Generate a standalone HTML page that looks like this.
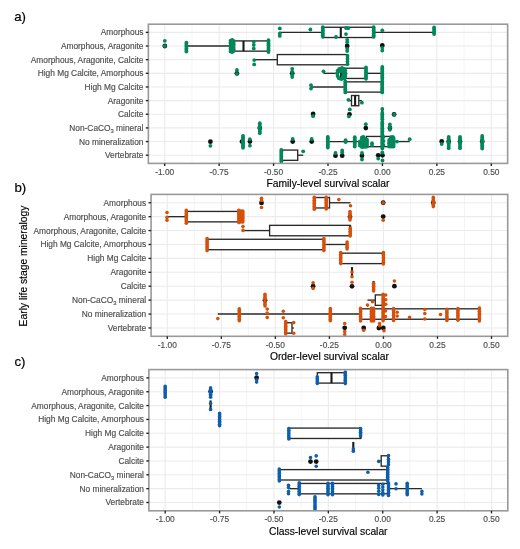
<!DOCTYPE html><html><head><meta charset="utf-8"><style>html,body{margin:0;padding:0;background:#fff;width:520px;height:549px;overflow:hidden}</style></head><body><svg width="520" height="549" viewBox="0 0 520 549" style="display:block;filter:blur(0.65px)"><rect width="520" height="549" fill="#fff"/><line x1="164.70" y1="24.20" x2="164.70" y2="163.40" stroke="#EBEBEB" stroke-width="1.1"/><line x1="191.92" y1="24.20" x2="191.92" y2="163.40" stroke="#EBEBEB" stroke-width="0.55"/><line x1="219.13" y1="24.20" x2="219.13" y2="163.40" stroke="#EBEBEB" stroke-width="1.1"/><line x1="246.35" y1="24.20" x2="246.35" y2="163.40" stroke="#EBEBEB" stroke-width="0.55"/><line x1="273.57" y1="24.20" x2="273.57" y2="163.40" stroke="#EBEBEB" stroke-width="1.1"/><line x1="300.78" y1="24.20" x2="300.78" y2="163.40" stroke="#EBEBEB" stroke-width="0.55"/><line x1="328.00" y1="24.20" x2="328.00" y2="163.40" stroke="#EBEBEB" stroke-width="1.1"/><line x1="355.22" y1="24.20" x2="355.22" y2="163.40" stroke="#EBEBEB" stroke-width="0.55"/><line x1="382.43" y1="24.20" x2="382.43" y2="163.40" stroke="#EBEBEB" stroke-width="1.1"/><line x1="409.65" y1="24.20" x2="409.65" y2="163.40" stroke="#EBEBEB" stroke-width="0.55"/><line x1="436.87" y1="24.20" x2="436.87" y2="163.40" stroke="#EBEBEB" stroke-width="1.1"/><line x1="464.08" y1="24.20" x2="464.08" y2="163.40" stroke="#EBEBEB" stroke-width="0.55"/><line x1="491.30" y1="24.20" x2="491.30" y2="163.40" stroke="#EBEBEB" stroke-width="1.1"/><line x1="148.37" y1="32.39" x2="507.63" y2="32.39" stroke="#EBEBEB" stroke-width="1.1"/><line x1="148.37" y1="46.04" x2="507.63" y2="46.04" stroke="#EBEBEB" stroke-width="1.1"/><line x1="148.37" y1="59.68" x2="507.63" y2="59.68" stroke="#EBEBEB" stroke-width="1.1"/><line x1="148.37" y1="73.33" x2="507.63" y2="73.33" stroke="#EBEBEB" stroke-width="1.1"/><line x1="148.37" y1="86.98" x2="507.63" y2="86.98" stroke="#EBEBEB" stroke-width="1.1"/><line x1="148.37" y1="100.62" x2="507.63" y2="100.62" stroke="#EBEBEB" stroke-width="1.1"/><line x1="148.37" y1="114.27" x2="507.63" y2="114.27" stroke="#EBEBEB" stroke-width="1.1"/><line x1="148.37" y1="127.92" x2="507.63" y2="127.92" stroke="#EBEBEB" stroke-width="1.1"/><line x1="148.37" y1="141.56" x2="507.63" y2="141.56" stroke="#EBEBEB" stroke-width="1.1"/><line x1="148.37" y1="155.21" x2="507.63" y2="155.21" stroke="#EBEBEB" stroke-width="1.1"/><g stroke="#2a2a2a" stroke-width="1.35" fill="#fff"><line x1="279.80" y1="32.39" x2="322.80" y2="32.39"/><line x1="373.70" y1="32.39" x2="434.10" y2="32.39"/><rect x="322.80" y="27.27" width="50.90" height="10.24"/><line x1="340.80" y1="27.27" x2="340.80" y2="37.51" stroke="#1a1a1a" stroke-width="2.1"/></g><g stroke="#2a2a2a" stroke-width="1.35" fill="#fff"><line x1="186.40" y1="46.04" x2="233.60" y2="46.04"/><line x1="268.50" y1="46.04" x2="268.50" y2="46.04"/><rect x="233.60" y="40.92" width="34.90" height="10.24"/><line x1="243.50" y1="40.92" x2="243.50" y2="51.15" stroke="#1a1a1a" stroke-width="2.1"/></g><g stroke="#2a2a2a" stroke-width="1.35" fill="#fff"><line x1="254.20" y1="59.68" x2="277.30" y2="59.68"/><line x1="347.50" y1="59.68" x2="347.50" y2="59.68"/><rect x="277.30" y="54.56" width="70.20" height="10.24"/><line x1="347.50" y1="54.56" x2="347.50" y2="64.80" stroke="#1a1a1a" stroke-width="2.1"/></g><g stroke="#2a2a2a" stroke-width="1.35" fill="#fff"><line x1="323.50" y1="73.33" x2="338.30" y2="73.33"/><line x1="366.00" y1="73.33" x2="382.30" y2="73.33"/><rect x="338.30" y="68.21" width="27.70" height="10.24"/><line x1="341.00" y1="68.21" x2="341.00" y2="78.45" stroke="#1a1a1a" stroke-width="2.1"/></g><g stroke="#2a2a2a" stroke-width="1.35" fill="#fff"><line x1="311.00" y1="86.98" x2="345.30" y2="86.98"/><line x1="382.20" y1="86.98" x2="382.20" y2="86.98"/><rect x="345.30" y="81.86" width="36.90" height="10.24"/><line x1="382.20" y1="81.86" x2="382.20" y2="92.09" stroke="#1a1a1a" stroke-width="2.1"/></g><g stroke="#2a2a2a" stroke-width="1.35" fill="#fff"><line x1="348.60" y1="100.62" x2="351.50" y2="100.62"/><line x1="358.80" y1="100.62" x2="361.90" y2="100.62"/><rect x="351.50" y="95.51" width="7.30" height="10.24"/><line x1="355.10" y1="95.51" x2="355.10" y2="105.74" stroke="#1a1a1a" stroke-width="2.1"/></g><g stroke="#2a2a2a" stroke-width="1.35" fill="#fff"><line x1="382.30" y1="114.27" x2="382.30" y2="114.27"/><line x1="382.30" y1="114.27" x2="382.30" y2="114.27"/><rect x="382.30" y="109.15" width="0.00" height="10.24"/><line x1="382.30" y1="109.15" x2="382.30" y2="119.39" stroke="#1a1a1a" stroke-width="2.1"/></g><g stroke="#2a2a2a" stroke-width="1.35" fill="#fff"><line x1="382.30" y1="127.92" x2="382.30" y2="127.92"/><line x1="382.30" y1="127.92" x2="382.30" y2="127.92"/><rect x="382.30" y="122.80" width="0.00" height="10.24"/><line x1="382.30" y1="122.80" x2="382.30" y2="133.04" stroke="#1a1a1a" stroke-width="2.1"/></g><g stroke="#2a2a2a" stroke-width="1.35" fill="#fff"><line x1="327.80" y1="141.56" x2="366.40" y2="141.56"/><line x1="390.50" y1="141.56" x2="409.70" y2="141.56"/><rect x="366.40" y="136.45" width="24.10" height="10.24"/><line x1="382.30" y1="136.45" x2="382.30" y2="146.68" stroke="#1a1a1a" stroke-width="2.1"/></g><g stroke="#2a2a2a" stroke-width="1.35" fill="#fff"><line x1="281.30" y1="155.21" x2="281.30" y2="155.21"/><line x1="297.70" y1="155.21" x2="303.20" y2="155.21"/><rect x="281.30" y="150.09" width="16.40" height="10.24"/><line x1="281.30" y1="150.09" x2="281.30" y2="160.33" stroke="#1a1a1a" stroke-width="2.1"/></g><circle cx="164.80" cy="46.00" r="2.4" fill="#111"/><circle cx="347.20" cy="46.00" r="2.4" fill="#111"/><circle cx="382.30" cy="45.50" r="2.4" fill="#111"/><circle cx="236.90" cy="73.30" r="2.4" fill="#111"/><circle cx="292.20" cy="73.30" r="2.4" fill="#111"/><circle cx="313.10" cy="114.00" r="2.4" fill="#111"/><circle cx="349.50" cy="114.30" r="2.4" fill="#111"/><circle cx="394.10" cy="114.40" r="2.4" fill="#111"/><circle cx="259.80" cy="128.00" r="2.4" fill="#111"/><circle cx="365.80" cy="128.10" r="2.4" fill="#111"/><circle cx="389.90" cy="128.00" r="2.4" fill="#111"/><circle cx="210.40" cy="141.70" r="2.4" fill="#111"/><circle cx="242.00" cy="141.60" r="2.4" fill="#111"/><circle cx="249.90" cy="141.60" r="2.4" fill="#111"/><circle cx="292.70" cy="141.60" r="2.4" fill="#111"/><circle cx="311.70" cy="141.60" r="2.4" fill="#111"/><circle cx="441.70" cy="141.50" r="2.4" fill="#111"/><circle cx="448.70" cy="141.50" r="2.4" fill="#111"/><circle cx="460.00" cy="141.50" r="2.4" fill="#111"/><circle cx="482.20" cy="141.50" r="2.4" fill="#111"/><circle cx="335.50" cy="155.70" r="2.4" fill="#111"/><circle cx="342.20" cy="155.70" r="2.4" fill="#111"/><circle cx="362.00" cy="155.70" r="2.4" fill="#111"/><circle cx="378.20" cy="155.30" r="2.4" fill="#111"/><circle cx="382.50" cy="155.30" r="2.4" fill="#111"/><circle cx="279.80" cy="28.40" r="1.9" fill="#00885A"/><circle cx="279.80" cy="33.40" r="1.9" fill="#00885A"/><circle cx="279.80" cy="35.90" r="1.9" fill="#00885A"/><circle cx="310.40" cy="29.50" r="1.9" fill="#00885A"/><circle cx="322.80" cy="27.20" r="1.9" fill="#00885A"/><circle cx="322.80" cy="28.80" r="1.9" fill="#00885A"/><circle cx="322.80" cy="30.40" r="1.9" fill="#00885A"/><circle cx="322.80" cy="32.00" r="1.9" fill="#00885A"/><circle cx="322.80" cy="33.60" r="1.9" fill="#00885A"/><circle cx="322.80" cy="35.20" r="1.9" fill="#00885A"/><circle cx="322.80" cy="36.80" r="1.9" fill="#00885A"/><circle cx="336.00" cy="37.00" r="1.9" fill="#00885A"/><circle cx="346.00" cy="28.00" r="1.9" fill="#00885A"/><circle cx="346.00" cy="34.10" r="1.9" fill="#00885A"/><circle cx="348.20" cy="28.20" r="1.9" fill="#00885A"/><circle cx="373.70" cy="27.20" r="1.9" fill="#00885A"/><circle cx="373.70" cy="28.80" r="1.9" fill="#00885A"/><circle cx="373.70" cy="30.40" r="1.9" fill="#00885A"/><circle cx="373.70" cy="32.00" r="1.9" fill="#00885A"/><circle cx="373.70" cy="33.60" r="1.9" fill="#00885A"/><circle cx="373.70" cy="35.20" r="1.9" fill="#00885A"/><circle cx="373.70" cy="36.80" r="1.9" fill="#00885A"/><circle cx="382.30" cy="30.30" r="1.9" fill="#00885A"/><circle cx="434.10" cy="27.40" r="1.9" fill="#00885A"/><circle cx="434.10" cy="29.07" r="1.9" fill="#00885A"/><circle cx="434.10" cy="30.75" r="1.9" fill="#00885A"/><circle cx="434.10" cy="32.42" r="1.9" fill="#00885A"/><circle cx="434.10" cy="34.10" r="1.9" fill="#00885A"/><circle cx="164.80" cy="46.00" r="1.9" fill="#00885A"/><circle cx="164.80" cy="40.80" r="1.9" fill="#00885A"/><circle cx="186.40" cy="42.60" r="1.9" fill="#00885A"/><circle cx="186.40" cy="44.10" r="1.9" fill="#00885A"/><circle cx="186.40" cy="45.60" r="1.9" fill="#00885A"/><circle cx="186.40" cy="47.10" r="1.9" fill="#00885A"/><circle cx="186.40" cy="48.60" r="1.9" fill="#00885A"/><circle cx="186.40" cy="50.10" r="1.9" fill="#00885A"/><circle cx="186.40" cy="51.60" r="1.9" fill="#00885A"/><circle cx="230.60" cy="40.60" r="1.9" fill="#00885A"/><circle cx="230.60" cy="42.17" r="1.9" fill="#00885A"/><circle cx="230.60" cy="43.74" r="1.9" fill="#00885A"/><circle cx="230.60" cy="45.31" r="1.9" fill="#00885A"/><circle cx="230.60" cy="46.89" r="1.9" fill="#00885A"/><circle cx="230.60" cy="48.46" r="1.9" fill="#00885A"/><circle cx="230.60" cy="50.03" r="1.9" fill="#00885A"/><circle cx="230.60" cy="51.60" r="1.9" fill="#00885A"/><circle cx="232.20" cy="40.00" r="1.9" fill="#00885A"/><circle cx="232.20" cy="41.50" r="1.9" fill="#00885A"/><circle cx="232.20" cy="43.00" r="1.9" fill="#00885A"/><circle cx="232.20" cy="44.50" r="1.9" fill="#00885A"/><circle cx="232.20" cy="46.00" r="1.9" fill="#00885A"/><circle cx="232.20" cy="47.50" r="1.9" fill="#00885A"/><circle cx="232.20" cy="49.00" r="1.9" fill="#00885A"/><circle cx="232.20" cy="50.50" r="1.9" fill="#00885A"/><circle cx="232.20" cy="52.00" r="1.9" fill="#00885A"/><circle cx="233.60" cy="41.00" r="1.9" fill="#00885A"/><circle cx="233.60" cy="42.67" r="1.9" fill="#00885A"/><circle cx="233.60" cy="44.33" r="1.9" fill="#00885A"/><circle cx="233.60" cy="46.00" r="1.9" fill="#00885A"/><circle cx="233.60" cy="47.67" r="1.9" fill="#00885A"/><circle cx="233.60" cy="49.33" r="1.9" fill="#00885A"/><circle cx="233.60" cy="51.00" r="1.9" fill="#00885A"/><circle cx="253.80" cy="41.80" r="1.9" fill="#00885A"/><circle cx="253.80" cy="45.00" r="1.9" fill="#00885A"/><circle cx="253.80" cy="48.60" r="1.9" fill="#00885A"/><circle cx="268.50" cy="40.20" r="1.9" fill="#00885A"/><circle cx="268.50" cy="41.89" r="1.9" fill="#00885A"/><circle cx="268.50" cy="43.57" r="1.9" fill="#00885A"/><circle cx="268.50" cy="45.26" r="1.9" fill="#00885A"/><circle cx="268.50" cy="46.94" r="1.9" fill="#00885A"/><circle cx="268.50" cy="48.63" r="1.9" fill="#00885A"/><circle cx="268.50" cy="50.31" r="1.9" fill="#00885A"/><circle cx="268.50" cy="52.00" r="1.9" fill="#00885A"/><circle cx="347.20" cy="39.80" r="1.9" fill="#00885A"/><circle cx="347.20" cy="42.20" r="1.9" fill="#00885A"/><circle cx="347.20" cy="48.80" r="1.9" fill="#00885A"/><circle cx="347.20" cy="51.00" r="1.9" fill="#00885A"/><circle cx="382.30" cy="47.80" r="1.9" fill="#00885A"/><circle cx="382.30" cy="50.60" r="1.9" fill="#00885A"/><circle cx="254.20" cy="60.10" r="1.9" fill="#00885A"/><circle cx="254.20" cy="64.40" r="1.9" fill="#00885A"/><circle cx="347.50" cy="56.00" r="1.9" fill="#00885A"/><circle cx="347.50" cy="58.80" r="1.9" fill="#00885A"/><circle cx="347.50" cy="61.60" r="1.9" fill="#00885A"/><circle cx="347.50" cy="64.20" r="1.9" fill="#00885A"/><circle cx="236.90" cy="69.90" r="1.9" fill="#00885A"/><circle cx="236.90" cy="73.90" r="1.9" fill="#00885A"/><circle cx="292.20" cy="68.80" r="1.9" fill="#00885A"/><circle cx="292.20" cy="71.60" r="1.9" fill="#00885A"/><circle cx="292.20" cy="75.00" r="1.9" fill="#00885A"/><circle cx="292.20" cy="77.00" r="1.9" fill="#00885A"/><circle cx="323.50" cy="71.30" r="1.9" fill="#00885A"/><circle cx="342.00" cy="67.90" r="1.9" fill="#00885A"/><circle cx="340.00" cy="68.90" r="1.9" fill="#00885A"/><circle cx="344.00" cy="68.90" r="1.9" fill="#00885A"/><circle cx="337.60" cy="70.60" r="1.9" fill="#00885A"/><circle cx="337.20" cy="73.20" r="1.9" fill="#00885A"/><circle cx="337.60" cy="76.00" r="1.9" fill="#00885A"/><circle cx="338.60" cy="78.00" r="1.9" fill="#00885A"/><circle cx="345.30" cy="70.60" r="1.9" fill="#00885A"/><circle cx="345.60" cy="73.50" r="1.9" fill="#00885A"/><circle cx="345.30" cy="76.50" r="1.9" fill="#00885A"/><circle cx="344.40" cy="78.40" r="1.9" fill="#00885A"/><circle cx="341.60" cy="79.00" r="1.9" fill="#00885A"/><circle cx="339.80" cy="78.60" r="1.9" fill="#00885A"/><circle cx="339.60" cy="71.40" r="1.9" fill="#00885A"/><circle cx="341.60" cy="71.00" r="1.9" fill="#00885A"/><circle cx="343.20" cy="72.60" r="1.9" fill="#00885A"/><circle cx="343.20" cy="75.20" r="1.9" fill="#00885A"/><circle cx="342.60" cy="77.60" r="1.9" fill="#00885A"/><circle cx="366.00" cy="67.50" r="1.9" fill="#00885A"/><circle cx="366.00" cy="69.11" r="1.9" fill="#00885A"/><circle cx="366.00" cy="70.73" r="1.9" fill="#00885A"/><circle cx="366.00" cy="72.34" r="1.9" fill="#00885A"/><circle cx="366.00" cy="73.96" r="1.9" fill="#00885A"/><circle cx="366.00" cy="75.57" r="1.9" fill="#00885A"/><circle cx="366.00" cy="77.19" r="1.9" fill="#00885A"/><circle cx="366.00" cy="78.80" r="1.9" fill="#00885A"/><circle cx="382.30" cy="67.00" r="1.9" fill="#00885A"/><circle cx="382.30" cy="68.50" r="1.9" fill="#00885A"/><circle cx="382.30" cy="70.00" r="1.9" fill="#00885A"/><circle cx="382.30" cy="71.50" r="1.9" fill="#00885A"/><circle cx="382.30" cy="73.00" r="1.9" fill="#00885A"/><circle cx="382.30" cy="74.50" r="1.9" fill="#00885A"/><circle cx="382.30" cy="76.00" r="1.9" fill="#00885A"/><circle cx="382.30" cy="77.50" r="1.9" fill="#00885A"/><circle cx="382.30" cy="79.00" r="1.9" fill="#00885A"/><circle cx="311.00" cy="85.20" r="1.9" fill="#00885A"/><circle cx="311.00" cy="88.60" r="1.9" fill="#00885A"/><circle cx="345.30" cy="81.30" r="1.9" fill="#00885A"/><circle cx="345.30" cy="82.89" r="1.9" fill="#00885A"/><circle cx="345.30" cy="84.47" r="1.9" fill="#00885A"/><circle cx="345.30" cy="86.06" r="1.9" fill="#00885A"/><circle cx="345.30" cy="87.64" r="1.9" fill="#00885A"/><circle cx="345.30" cy="89.23" r="1.9" fill="#00885A"/><circle cx="345.30" cy="90.81" r="1.9" fill="#00885A"/><circle cx="345.30" cy="92.40" r="1.9" fill="#00885A"/><circle cx="382.20" cy="81.30" r="1.9" fill="#00885A"/><circle cx="382.20" cy="82.89" r="1.9" fill="#00885A"/><circle cx="382.20" cy="84.47" r="1.9" fill="#00885A"/><circle cx="382.20" cy="86.06" r="1.9" fill="#00885A"/><circle cx="382.20" cy="87.64" r="1.9" fill="#00885A"/><circle cx="382.20" cy="89.23" r="1.9" fill="#00885A"/><circle cx="382.20" cy="90.81" r="1.9" fill="#00885A"/><circle cx="382.20" cy="92.40" r="1.9" fill="#00885A"/><circle cx="348.40" cy="99.80" r="1.9" fill="#00885A"/><circle cx="361.90" cy="102.70" r="1.9" fill="#00885A"/><circle cx="313.10" cy="116.20" r="1.9" fill="#00885A"/><circle cx="349.80" cy="109.40" r="1.9" fill="#00885A"/><circle cx="348.90" cy="116.40" r="1.9" fill="#00885A"/><circle cx="382.30" cy="108.90" r="1.9" fill="#00885A"/><circle cx="382.30" cy="112.90" r="1.9" fill="#00885A"/><circle cx="382.30" cy="114.50" r="1.9" fill="#00885A"/><circle cx="382.30" cy="116.10" r="1.9" fill="#00885A"/><circle cx="382.30" cy="117.70" r="1.9" fill="#00885A"/><circle cx="382.30" cy="119.30" r="1.9" fill="#00885A"/><circle cx="382.30" cy="122.00" r="1.9" fill="#00885A"/><circle cx="382.30" cy="123.55" r="1.9" fill="#00885A"/><circle cx="382.30" cy="125.11" r="1.9" fill="#00885A"/><circle cx="382.30" cy="126.66" r="1.9" fill="#00885A"/><circle cx="382.30" cy="128.21" r="1.9" fill="#00885A"/><circle cx="382.30" cy="129.76" r="1.9" fill="#00885A"/><circle cx="382.30" cy="131.32" r="1.9" fill="#00885A"/><circle cx="382.30" cy="132.87" r="1.9" fill="#00885A"/><circle cx="382.30" cy="134.42" r="1.9" fill="#00885A"/><circle cx="382.30" cy="135.98" r="1.9" fill="#00885A"/><circle cx="382.30" cy="137.53" r="1.9" fill="#00885A"/><circle cx="382.30" cy="139.08" r="1.9" fill="#00885A"/><circle cx="382.30" cy="140.64" r="1.9" fill="#00885A"/><circle cx="382.30" cy="142.19" r="1.9" fill="#00885A"/><circle cx="382.30" cy="143.74" r="1.9" fill="#00885A"/><circle cx="382.30" cy="145.29" r="1.9" fill="#00885A"/><circle cx="382.30" cy="146.85" r="1.9" fill="#00885A"/><circle cx="382.30" cy="148.40" r="1.9" fill="#00885A"/><circle cx="383.40" cy="137.00" r="1.9" fill="#00885A"/><circle cx="383.40" cy="141.00" r="1.9" fill="#00885A"/><circle cx="383.40" cy="145.00" r="1.9" fill="#00885A"/><circle cx="394.10" cy="114.50" r="1.9" fill="#00885A"/><circle cx="259.80" cy="123.20" r="1.9" fill="#00885A"/><circle cx="259.80" cy="124.87" r="1.9" fill="#00885A"/><circle cx="259.80" cy="126.53" r="1.9" fill="#00885A"/><circle cx="259.80" cy="128.20" r="1.9" fill="#00885A"/><circle cx="259.80" cy="129.87" r="1.9" fill="#00885A"/><circle cx="259.80" cy="131.53" r="1.9" fill="#00885A"/><circle cx="259.80" cy="133.20" r="1.9" fill="#00885A"/><circle cx="365.80" cy="124.20" r="1.9" fill="#00885A"/><circle cx="389.90" cy="124.50" r="1.9" fill="#00885A"/><circle cx="389.90" cy="127.20" r="1.9" fill="#00885A"/><circle cx="389.90" cy="129.80" r="1.9" fill="#00885A"/><circle cx="210.40" cy="145.80" r="1.9" fill="#00885A"/><circle cx="243.00" cy="135.80" r="1.9" fill="#00885A"/><circle cx="243.00" cy="137.30" r="1.9" fill="#00885A"/><circle cx="243.00" cy="138.80" r="1.9" fill="#00885A"/><circle cx="243.00" cy="140.30" r="1.9" fill="#00885A"/><circle cx="243.00" cy="141.80" r="1.9" fill="#00885A"/><circle cx="243.00" cy="143.30" r="1.9" fill="#00885A"/><circle cx="243.00" cy="144.80" r="1.9" fill="#00885A"/><circle cx="243.00" cy="146.30" r="1.9" fill="#00885A"/><circle cx="243.00" cy="147.80" r="1.9" fill="#00885A"/><circle cx="249.90" cy="145.70" r="1.9" fill="#00885A"/><circle cx="249.90" cy="139.20" r="1.9" fill="#00885A"/><circle cx="292.70" cy="139.00" r="1.9" fill="#00885A"/><circle cx="311.70" cy="139.00" r="1.9" fill="#00885A"/><circle cx="327.80" cy="136.80" r="1.9" fill="#00885A"/><circle cx="327.80" cy="138.34" r="1.9" fill="#00885A"/><circle cx="327.80" cy="139.89" r="1.9" fill="#00885A"/><circle cx="327.80" cy="141.43" r="1.9" fill="#00885A"/><circle cx="327.80" cy="142.97" r="1.9" fill="#00885A"/><circle cx="327.80" cy="144.51" r="1.9" fill="#00885A"/><circle cx="327.80" cy="146.06" r="1.9" fill="#00885A"/><circle cx="327.80" cy="147.60" r="1.9" fill="#00885A"/><circle cx="345.60" cy="140.20" r="1.9" fill="#00885A"/><circle cx="345.60" cy="142.00" r="1.9" fill="#00885A"/><circle cx="354.75" cy="137.20" r="1.9" fill="#00885A"/><circle cx="354.75" cy="138.77" r="1.9" fill="#00885A"/><circle cx="354.75" cy="140.33" r="1.9" fill="#00885A"/><circle cx="354.75" cy="141.90" r="1.9" fill="#00885A"/><circle cx="354.75" cy="143.47" r="1.9" fill="#00885A"/><circle cx="354.75" cy="145.03" r="1.9" fill="#00885A"/><circle cx="354.75" cy="146.60" r="1.9" fill="#00885A"/><circle cx="359.90" cy="141.50" r="1.9" fill="#00885A"/><circle cx="359.90" cy="143.50" r="1.9" fill="#00885A"/><circle cx="359.90" cy="145.50" r="1.9" fill="#00885A"/><circle cx="361.90" cy="137.50" r="1.9" fill="#00885A"/><circle cx="361.90" cy="139.08" r="1.9" fill="#00885A"/><circle cx="361.90" cy="140.67" r="1.9" fill="#00885A"/><circle cx="361.90" cy="142.25" r="1.9" fill="#00885A"/><circle cx="361.90" cy="143.83" r="1.9" fill="#00885A"/><circle cx="361.90" cy="145.42" r="1.9" fill="#00885A"/><circle cx="361.90" cy="147.00" r="1.9" fill="#00885A"/><circle cx="363.40" cy="136.80" r="1.9" fill="#00885A"/><circle cx="363.40" cy="138.47" r="1.9" fill="#00885A"/><circle cx="363.40" cy="140.13" r="1.9" fill="#00885A"/><circle cx="363.40" cy="141.80" r="1.9" fill="#00885A"/><circle cx="363.40" cy="143.47" r="1.9" fill="#00885A"/><circle cx="363.40" cy="145.13" r="1.9" fill="#00885A"/><circle cx="363.40" cy="146.80" r="1.9" fill="#00885A"/><circle cx="365.40" cy="138.80" r="1.9" fill="#00885A"/><circle cx="365.40" cy="140.40" r="1.9" fill="#00885A"/><circle cx="365.40" cy="142.00" r="1.9" fill="#00885A"/><circle cx="365.40" cy="143.60" r="1.9" fill="#00885A"/><circle cx="365.40" cy="145.20" r="1.9" fill="#00885A"/><circle cx="365.40" cy="146.80" r="1.9" fill="#00885A"/><circle cx="367.00" cy="139.60" r="1.9" fill="#00885A"/><circle cx="367.00" cy="141.35" r="1.9" fill="#00885A"/><circle cx="367.00" cy="143.10" r="1.9" fill="#00885A"/><circle cx="367.00" cy="144.85" r="1.9" fill="#00885A"/><circle cx="367.00" cy="146.60" r="1.9" fill="#00885A"/><circle cx="372.00" cy="143.20" r="1.9" fill="#00885A"/><circle cx="372.00" cy="145.00" r="1.9" fill="#00885A"/><circle cx="389.20" cy="140.00" r="1.9" fill="#00885A"/><circle cx="389.20" cy="141.65" r="1.9" fill="#00885A"/><circle cx="389.20" cy="143.30" r="1.9" fill="#00885A"/><circle cx="389.20" cy="144.95" r="1.9" fill="#00885A"/><circle cx="389.20" cy="146.60" r="1.9" fill="#00885A"/><circle cx="391.00" cy="137.20" r="1.9" fill="#00885A"/><circle cx="391.00" cy="138.77" r="1.9" fill="#00885A"/><circle cx="391.00" cy="140.33" r="1.9" fill="#00885A"/><circle cx="391.00" cy="141.90" r="1.9" fill="#00885A"/><circle cx="391.00" cy="143.47" r="1.9" fill="#00885A"/><circle cx="391.00" cy="145.03" r="1.9" fill="#00885A"/><circle cx="391.00" cy="146.60" r="1.9" fill="#00885A"/><circle cx="392.80" cy="137.00" r="1.9" fill="#00885A"/><circle cx="392.80" cy="138.60" r="1.9" fill="#00885A"/><circle cx="392.80" cy="140.20" r="1.9" fill="#00885A"/><circle cx="392.80" cy="141.80" r="1.9" fill="#00885A"/><circle cx="392.80" cy="143.40" r="1.9" fill="#00885A"/><circle cx="392.80" cy="145.00" r="1.9" fill="#00885A"/><circle cx="392.80" cy="146.60" r="1.9" fill="#00885A"/><circle cx="393.60" cy="138.00" r="1.9" fill="#00885A"/><circle cx="393.60" cy="139.68" r="1.9" fill="#00885A"/><circle cx="393.60" cy="141.36" r="1.9" fill="#00885A"/><circle cx="393.60" cy="143.04" r="1.9" fill="#00885A"/><circle cx="393.60" cy="144.72" r="1.9" fill="#00885A"/><circle cx="393.60" cy="146.40" r="1.9" fill="#00885A"/><circle cx="397.00" cy="141.60" r="1.9" fill="#00885A"/><circle cx="409.70" cy="139.20" r="1.9" fill="#00885A"/><circle cx="441.70" cy="144.00" r="1.9" fill="#00885A"/><circle cx="448.70" cy="136.80" r="1.9" fill="#00885A"/><circle cx="448.70" cy="138.43" r="1.9" fill="#00885A"/><circle cx="448.70" cy="140.06" r="1.9" fill="#00885A"/><circle cx="448.70" cy="141.69" r="1.9" fill="#00885A"/><circle cx="448.70" cy="143.31" r="1.9" fill="#00885A"/><circle cx="448.70" cy="144.94" r="1.9" fill="#00885A"/><circle cx="448.70" cy="146.57" r="1.9" fill="#00885A"/><circle cx="448.70" cy="148.20" r="1.9" fill="#00885A"/><circle cx="460.00" cy="136.80" r="1.9" fill="#00885A"/><circle cx="460.00" cy="138.43" r="1.9" fill="#00885A"/><circle cx="460.00" cy="140.06" r="1.9" fill="#00885A"/><circle cx="460.00" cy="141.69" r="1.9" fill="#00885A"/><circle cx="460.00" cy="143.31" r="1.9" fill="#00885A"/><circle cx="460.00" cy="144.94" r="1.9" fill="#00885A"/><circle cx="460.00" cy="146.57" r="1.9" fill="#00885A"/><circle cx="460.00" cy="148.20" r="1.9" fill="#00885A"/><circle cx="482.20" cy="136.00" r="1.9" fill="#00885A"/><circle cx="482.20" cy="137.57" r="1.9" fill="#00885A"/><circle cx="482.20" cy="139.15" r="1.9" fill="#00885A"/><circle cx="482.20" cy="140.72" r="1.9" fill="#00885A"/><circle cx="482.20" cy="142.30" r="1.9" fill="#00885A"/><circle cx="482.20" cy="143.88" r="1.9" fill="#00885A"/><circle cx="482.20" cy="145.45" r="1.9" fill="#00885A"/><circle cx="482.20" cy="147.03" r="1.9" fill="#00885A"/><circle cx="482.20" cy="148.60" r="1.9" fill="#00885A"/><circle cx="281.30" cy="149.80" r="1.9" fill="#00885A"/><circle cx="281.30" cy="151.46" r="1.9" fill="#00885A"/><circle cx="281.30" cy="153.11" r="1.9" fill="#00885A"/><circle cx="281.30" cy="154.77" r="1.9" fill="#00885A"/><circle cx="281.30" cy="156.43" r="1.9" fill="#00885A"/><circle cx="281.30" cy="158.09" r="1.9" fill="#00885A"/><circle cx="281.30" cy="159.74" r="1.9" fill="#00885A"/><circle cx="281.30" cy="161.40" r="1.9" fill="#00885A"/><circle cx="303.20" cy="151.30" r="1.9" fill="#00885A"/><circle cx="335.50" cy="153.00" r="1.9" fill="#00885A"/><circle cx="342.20" cy="152.30" r="1.9" fill="#00885A"/><circle cx="342.20" cy="150.50" r="1.9" fill="#00885A"/><circle cx="362.00" cy="153.00" r="1.9" fill="#00885A"/><circle cx="362.00" cy="159.50" r="1.9" fill="#00885A"/><circle cx="378.20" cy="158.60" r="1.9" fill="#00885A"/><circle cx="382.30" cy="152.50" r="1.9" fill="#00885A"/><circle cx="382.50" cy="160.50" r="1.9" fill="#00885A"/><rect x="148.37" y="24.20" width="359.26" height="139.20" fill="none" stroke="#999" stroke-width="1.6"/><line x1="145.77" y1="32.39" x2="148.37" y2="32.39" stroke="#222" stroke-width="1.35"/><text x="143.47" y="35.34" text-anchor="end" font-family='"Liberation Sans", sans-serif' font-size="8.35" fill="#4D4D4D" stroke="#4D4D4D" stroke-width="0.15">Amorphous</text><line x1="145.77" y1="46.04" x2="148.37" y2="46.04" stroke="#222" stroke-width="1.35"/><text x="143.47" y="48.99" text-anchor="end" font-family='"Liberation Sans", sans-serif' font-size="8.35" fill="#4D4D4D" stroke="#4D4D4D" stroke-width="0.15">Amorphous, Aragonite</text><line x1="145.77" y1="59.68" x2="148.37" y2="59.68" stroke="#222" stroke-width="1.35"/><text x="143.47" y="62.63" text-anchor="end" font-family='"Liberation Sans", sans-serif' font-size="8.35" fill="#4D4D4D" stroke="#4D4D4D" stroke-width="0.15">Amorphous, Aragonite, Calcite</text><line x1="145.77" y1="73.33" x2="148.37" y2="73.33" stroke="#222" stroke-width="1.35"/><text x="143.47" y="76.28" text-anchor="end" font-family='"Liberation Sans", sans-serif' font-size="8.35" fill="#4D4D4D" stroke="#4D4D4D" stroke-width="0.15">High Mg Calcite, Amorphous</text><line x1="145.77" y1="86.98" x2="148.37" y2="86.98" stroke="#222" stroke-width="1.35"/><text x="143.47" y="89.93" text-anchor="end" font-family='"Liberation Sans", sans-serif' font-size="8.35" fill="#4D4D4D" stroke="#4D4D4D" stroke-width="0.15">High Mg Calcite</text><line x1="145.77" y1="100.62" x2="148.37" y2="100.62" stroke="#222" stroke-width="1.35"/><text x="143.47" y="103.57" text-anchor="end" font-family='"Liberation Sans", sans-serif' font-size="8.35" fill="#4D4D4D" stroke="#4D4D4D" stroke-width="0.15">Aragonite</text><line x1="145.77" y1="114.27" x2="148.37" y2="114.27" stroke="#222" stroke-width="1.35"/><text x="143.47" y="117.22" text-anchor="end" font-family='"Liberation Sans", sans-serif' font-size="8.35" fill="#4D4D4D" stroke="#4D4D4D" stroke-width="0.15">Calcite</text><line x1="145.77" y1="127.92" x2="148.37" y2="127.92" stroke="#222" stroke-width="1.35"/><text x="143.47" y="130.87" text-anchor="end" font-family='"Liberation Sans", sans-serif' font-size="8.35" fill="#4D4D4D" stroke="#4D4D4D" stroke-width="0.15">Non-CaCO<tspan font-size="5.8" dy="2.1">3</tspan><tspan dy="-2.1"> mineral</tspan></text><line x1="145.77" y1="141.56" x2="148.37" y2="141.56" stroke="#222" stroke-width="1.35"/><text x="143.47" y="144.51" text-anchor="end" font-family='"Liberation Sans", sans-serif' font-size="8.35" fill="#4D4D4D" stroke="#4D4D4D" stroke-width="0.15">No mineralization</text><line x1="145.77" y1="155.21" x2="148.37" y2="155.21" stroke="#222" stroke-width="1.35"/><text x="143.47" y="158.16" text-anchor="end" font-family='"Liberation Sans", sans-serif' font-size="8.35" fill="#4D4D4D" stroke="#4D4D4D" stroke-width="0.15">Vertebrate</text><line x1="164.70" y1="163.40" x2="164.70" y2="166.00" stroke="#222" stroke-width="1.35"/><text x="164.70" y="174.80" text-anchor="middle" font-family='"Liberation Sans", sans-serif' font-size="8.4" fill="#4D4D4D" stroke="#4D4D4D" stroke-width="0.15">-1.00</text><line x1="219.13" y1="163.40" x2="219.13" y2="166.00" stroke="#222" stroke-width="1.35"/><text x="219.13" y="174.80" text-anchor="middle" font-family='"Liberation Sans", sans-serif' font-size="8.4" fill="#4D4D4D" stroke="#4D4D4D" stroke-width="0.15">-0.75</text><line x1="273.57" y1="163.40" x2="273.57" y2="166.00" stroke="#222" stroke-width="1.35"/><text x="273.57" y="174.80" text-anchor="middle" font-family='"Liberation Sans", sans-serif' font-size="8.4" fill="#4D4D4D" stroke="#4D4D4D" stroke-width="0.15">-0.50</text><line x1="328.00" y1="163.40" x2="328.00" y2="166.00" stroke="#222" stroke-width="1.35"/><text x="328.00" y="174.80" text-anchor="middle" font-family='"Liberation Sans", sans-serif' font-size="8.4" fill="#4D4D4D" stroke="#4D4D4D" stroke-width="0.15">-0.25</text><line x1="382.43" y1="163.40" x2="382.43" y2="166.00" stroke="#222" stroke-width="1.35"/><text x="382.43" y="174.80" text-anchor="middle" font-family='"Liberation Sans", sans-serif' font-size="8.4" fill="#4D4D4D" stroke="#4D4D4D" stroke-width="0.15">0.00</text><line x1="436.87" y1="163.40" x2="436.87" y2="166.00" stroke="#222" stroke-width="1.35"/><text x="436.87" y="174.80" text-anchor="middle" font-family='"Liberation Sans", sans-serif' font-size="8.4" fill="#4D4D4D" stroke="#4D4D4D" stroke-width="0.15">0.25</text><line x1="491.30" y1="163.40" x2="491.30" y2="166.00" stroke="#222" stroke-width="1.35"/><text x="491.30" y="174.80" text-anchor="middle" font-family='"Liberation Sans", sans-serif' font-size="8.4" fill="#4D4D4D" stroke="#4D4D4D" stroke-width="0.15">0.50</text><text x="328.00" y="187.40" text-anchor="middle" font-family='"Liberation Sans", sans-serif' font-size="10.3" fill="#000" stroke="#000" stroke-width="0.15">Family-level survival scalar</text><text x="14.2" y="21.0" font-family='"Liberation Sans", sans-serif' font-size="13.2" fill="#000" stroke="#000" stroke-width="0.2">a)</text><line x1="167.30" y1="194.40" x2="167.30" y2="336.30" stroke="#EBEBEB" stroke-width="1.1"/><line x1="194.32" y1="194.40" x2="194.32" y2="336.30" stroke="#EBEBEB" stroke-width="0.55"/><line x1="221.33" y1="194.40" x2="221.33" y2="336.30" stroke="#EBEBEB" stroke-width="1.1"/><line x1="248.35" y1="194.40" x2="248.35" y2="336.30" stroke="#EBEBEB" stroke-width="0.55"/><line x1="275.37" y1="194.40" x2="275.37" y2="336.30" stroke="#EBEBEB" stroke-width="1.1"/><line x1="302.38" y1="194.40" x2="302.38" y2="336.30" stroke="#EBEBEB" stroke-width="0.55"/><line x1="329.40" y1="194.40" x2="329.40" y2="336.30" stroke="#EBEBEB" stroke-width="1.1"/><line x1="356.42" y1="194.40" x2="356.42" y2="336.30" stroke="#EBEBEB" stroke-width="0.55"/><line x1="383.43" y1="194.40" x2="383.43" y2="336.30" stroke="#EBEBEB" stroke-width="1.1"/><line x1="410.45" y1="194.40" x2="410.45" y2="336.30" stroke="#EBEBEB" stroke-width="0.55"/><line x1="437.47" y1="194.40" x2="437.47" y2="336.30" stroke="#EBEBEB" stroke-width="1.1"/><line x1="464.48" y1="194.40" x2="464.48" y2="336.30" stroke="#EBEBEB" stroke-width="0.55"/><line x1="491.50" y1="194.40" x2="491.50" y2="336.30" stroke="#EBEBEB" stroke-width="1.1"/><line x1="151.09" y1="202.75" x2="507.71" y2="202.75" stroke="#EBEBEB" stroke-width="1.1"/><line x1="151.09" y1="216.66" x2="507.71" y2="216.66" stroke="#EBEBEB" stroke-width="1.1"/><line x1="151.09" y1="230.57" x2="507.71" y2="230.57" stroke="#EBEBEB" stroke-width="1.1"/><line x1="151.09" y1="244.48" x2="507.71" y2="244.48" stroke="#EBEBEB" stroke-width="1.1"/><line x1="151.09" y1="258.39" x2="507.71" y2="258.39" stroke="#EBEBEB" stroke-width="1.1"/><line x1="151.09" y1="272.31" x2="507.71" y2="272.31" stroke="#EBEBEB" stroke-width="1.1"/><line x1="151.09" y1="286.22" x2="507.71" y2="286.22" stroke="#EBEBEB" stroke-width="1.1"/><line x1="151.09" y1="300.13" x2="507.71" y2="300.13" stroke="#EBEBEB" stroke-width="1.1"/><line x1="151.09" y1="314.04" x2="507.71" y2="314.04" stroke="#EBEBEB" stroke-width="1.1"/><line x1="151.09" y1="327.95" x2="507.71" y2="327.95" stroke="#EBEBEB" stroke-width="1.1"/><g stroke="#2a2a2a" stroke-width="1.35" fill="#fff"><line x1="314.30" y1="202.75" x2="314.30" y2="202.75"/><line x1="329.50" y1="202.75" x2="350.50" y2="202.75"/><rect x="314.30" y="197.53" width="15.20" height="10.43"/><line x1="326.20" y1="197.53" x2="326.20" y2="207.96" stroke="#1a1a1a" stroke-width="2.1"/></g><g stroke="#2a2a2a" stroke-width="1.35" fill="#fff"><line x1="167.00" y1="216.66" x2="186.30" y2="216.66"/><line x1="238.80" y1="216.66" x2="238.80" y2="216.66"/><rect x="186.30" y="211.44" width="52.50" height="10.43"/><line x1="186.30" y1="211.44" x2="186.30" y2="221.88" stroke="#1a1a1a" stroke-width="2.1"/></g><g stroke="#2a2a2a" stroke-width="1.35" fill="#fff"><line x1="243.00" y1="230.57" x2="269.60" y2="230.57"/><line x1="350.20" y1="230.57" x2="350.20" y2="230.57"/><rect x="269.60" y="225.35" width="80.60" height="10.43"/><line x1="350.20" y1="225.35" x2="350.20" y2="235.79" stroke="#1a1a1a" stroke-width="2.1"/></g><g stroke="#2a2a2a" stroke-width="1.35" fill="#fff"><line x1="207.10" y1="244.48" x2="207.10" y2="244.48"/><line x1="323.90" y1="244.48" x2="347.10" y2="244.48"/><rect x="207.10" y="239.27" width="116.80" height="10.43"/><line x1="207.10" y1="239.27" x2="207.10" y2="249.70" stroke="#1a1a1a" stroke-width="2.1"/></g><g stroke="#2a2a2a" stroke-width="1.35" fill="#fff"><line x1="340.70" y1="258.39" x2="340.70" y2="258.39"/><line x1="383.40" y1="258.39" x2="383.40" y2="258.39"/><rect x="340.70" y="253.18" width="42.70" height="10.43"/><line x1="383.40" y1="253.18" x2="383.40" y2="263.61" stroke="#1a1a1a" stroke-width="2.1"/></g><g stroke="#2a2a2a" stroke-width="1.35" fill="#fff"><line x1="352.00" y1="272.31" x2="352.00" y2="272.31"/><line x1="352.00" y1="272.31" x2="352.00" y2="272.31"/><rect x="352.00" y="267.09" width="0.00" height="10.43"/><line x1="352.00" y1="267.09" x2="352.00" y2="277.52" stroke="#1a1a1a" stroke-width="2.1"/></g><g stroke="#2a2a2a" stroke-width="1.35" fill="#fff"><line x1="373.60" y1="286.22" x2="373.60" y2="286.22"/><line x1="373.60" y1="286.22" x2="373.60" y2="286.22"/><rect x="373.60" y="281.00" width="0.00" height="10.43"/><line x1="373.60" y1="281.00" x2="373.60" y2="291.43" stroke="#1a1a1a" stroke-width="2.1"/></g><g stroke="#2a2a2a" stroke-width="1.35" fill="#fff"><line x1="367.50" y1="300.13" x2="375.30" y2="300.13"/><line x1="383.80" y1="300.13" x2="385.70" y2="300.13"/><rect x="375.30" y="294.91" width="8.50" height="10.43"/><line x1="383.10" y1="294.91" x2="383.10" y2="305.35" stroke="#1a1a1a" stroke-width="2.1"/></g><g stroke="#2a2a2a" stroke-width="1.35" fill="#fff"><line x1="217.80" y1="314.04" x2="360.60" y2="314.04"/><line x1="479.40" y1="314.04" x2="479.40" y2="314.04"/><rect x="360.60" y="308.82" width="118.80" height="10.43"/><line x1="383.10" y1="308.82" x2="383.10" y2="319.26" stroke="#1a1a1a" stroke-width="2.1"/></g><g stroke="#2a2a2a" stroke-width="1.35" fill="#fff"><line x1="285.70" y1="327.95" x2="285.70" y2="327.95"/><line x1="292.00" y1="327.95" x2="293.70" y2="327.95"/><rect x="285.70" y="322.74" width="6.30" height="10.43"/><line x1="285.70" y1="322.74" x2="285.70" y2="333.17" stroke="#1a1a1a" stroke-width="2.1"/></g><circle cx="261.50" cy="202.90" r="2.4" fill="#111"/><circle cx="383.20" cy="202.70" r="2.4" fill="#111"/><circle cx="433.30" cy="202.70" r="2.4" fill="#111"/><circle cx="350.00" cy="216.70" r="2.4" fill="#111"/><circle cx="383.20" cy="216.60" r="2.4" fill="#111"/><circle cx="313.10" cy="286.20" r="2.4" fill="#111"/><circle cx="352.00" cy="286.30" r="2.4" fill="#111"/><circle cx="394.40" cy="286.20" r="2.4" fill="#111"/><circle cx="265.00" cy="300.30" r="2.4" fill="#111"/><circle cx="344.70" cy="327.80" r="2.4" fill="#111"/><circle cx="363.70" cy="328.00" r="2.4" fill="#111"/><circle cx="378.90" cy="328.00" r="2.4" fill="#111"/><circle cx="383.30" cy="328.00" r="2.4" fill="#111"/><circle cx="261.50" cy="198.30" r="1.8" fill="#D6500A"/><circle cx="261.50" cy="200.40" r="1.8" fill="#D6500A"/><circle cx="261.50" cy="207.50" r="1.8" fill="#D6500A"/><circle cx="314.30" cy="197.20" r="1.8" fill="#D6500A"/><circle cx="314.30" cy="198.70" r="1.8" fill="#D6500A"/><circle cx="314.30" cy="200.20" r="1.8" fill="#D6500A"/><circle cx="314.30" cy="201.70" r="1.8" fill="#D6500A"/><circle cx="314.30" cy="203.20" r="1.8" fill="#D6500A"/><circle cx="314.30" cy="204.70" r="1.8" fill="#D6500A"/><circle cx="314.30" cy="206.20" r="1.8" fill="#D6500A"/><circle cx="314.30" cy="207.70" r="1.8" fill="#D6500A"/><circle cx="314.30" cy="209.20" r="1.8" fill="#D6500A"/><circle cx="326.20" cy="197.20" r="1.8" fill="#D6500A"/><circle cx="326.20" cy="198.89" r="1.8" fill="#D6500A"/><circle cx="326.20" cy="200.57" r="1.8" fill="#D6500A"/><circle cx="326.20" cy="202.26" r="1.8" fill="#D6500A"/><circle cx="326.20" cy="203.94" r="1.8" fill="#D6500A"/><circle cx="326.20" cy="205.63" r="1.8" fill="#D6500A"/><circle cx="326.20" cy="207.31" r="1.8" fill="#D6500A"/><circle cx="326.20" cy="209.00" r="1.8" fill="#D6500A"/><circle cx="338.80" cy="199.60" r="1.8" fill="#D6500A"/><circle cx="350.50" cy="205.70" r="1.8" fill="#D6500A"/><circle cx="383.20" cy="202.70" r="1.8" fill="#D6500A"/><circle cx="433.30" cy="197.40" r="1.8" fill="#D6500A"/><circle cx="433.30" cy="198.93" r="1.8" fill="#D6500A"/><circle cx="433.30" cy="200.47" r="1.8" fill="#D6500A"/><circle cx="433.30" cy="202.00" r="1.8" fill="#D6500A"/><circle cx="433.30" cy="203.53" r="1.8" fill="#D6500A"/><circle cx="433.30" cy="205.07" r="1.8" fill="#D6500A"/><circle cx="433.30" cy="206.60" r="1.8" fill="#D6500A"/><circle cx="167.00" cy="212.50" r="1.8" fill="#D6500A"/><circle cx="167.00" cy="217.40" r="1.8" fill="#D6500A"/><circle cx="167.00" cy="220.30" r="1.8" fill="#D6500A"/><circle cx="186.30" cy="210.40" r="1.8" fill="#D6500A"/><circle cx="186.30" cy="212.00" r="1.8" fill="#D6500A"/><circle cx="186.30" cy="213.60" r="1.8" fill="#D6500A"/><circle cx="186.30" cy="215.20" r="1.8" fill="#D6500A"/><circle cx="186.30" cy="216.80" r="1.8" fill="#D6500A"/><circle cx="186.30" cy="218.40" r="1.8" fill="#D6500A"/><circle cx="186.30" cy="220.00" r="1.8" fill="#D6500A"/><circle cx="186.30" cy="221.60" r="1.8" fill="#D6500A"/><circle cx="186.30" cy="223.20" r="1.8" fill="#D6500A"/><circle cx="238.80" cy="210.40" r="1.8" fill="#D6500A"/><circle cx="238.80" cy="211.93" r="1.8" fill="#D6500A"/><circle cx="238.80" cy="213.45" r="1.8" fill="#D6500A"/><circle cx="238.80" cy="214.97" r="1.8" fill="#D6500A"/><circle cx="238.80" cy="216.50" r="1.8" fill="#D6500A"/><circle cx="238.80" cy="218.03" r="1.8" fill="#D6500A"/><circle cx="238.80" cy="219.55" r="1.8" fill="#D6500A"/><circle cx="238.80" cy="221.07" r="1.8" fill="#D6500A"/><circle cx="238.80" cy="222.60" r="1.8" fill="#D6500A"/><circle cx="240.80" cy="211.00" r="1.8" fill="#D6500A"/><circle cx="240.80" cy="212.57" r="1.8" fill="#D6500A"/><circle cx="240.80" cy="214.14" r="1.8" fill="#D6500A"/><circle cx="240.80" cy="215.71" r="1.8" fill="#D6500A"/><circle cx="240.80" cy="217.29" r="1.8" fill="#D6500A"/><circle cx="240.80" cy="218.86" r="1.8" fill="#D6500A"/><circle cx="240.80" cy="220.43" r="1.8" fill="#D6500A"/><circle cx="240.80" cy="222.00" r="1.8" fill="#D6500A"/><circle cx="242.80" cy="211.00" r="1.8" fill="#D6500A"/><circle cx="242.80" cy="212.57" r="1.8" fill="#D6500A"/><circle cx="242.80" cy="214.14" r="1.8" fill="#D6500A"/><circle cx="242.80" cy="215.71" r="1.8" fill="#D6500A"/><circle cx="242.80" cy="217.29" r="1.8" fill="#D6500A"/><circle cx="242.80" cy="218.86" r="1.8" fill="#D6500A"/><circle cx="242.80" cy="220.43" r="1.8" fill="#D6500A"/><circle cx="242.80" cy="222.00" r="1.8" fill="#D6500A"/><circle cx="350.00" cy="211.60" r="1.8" fill="#D6500A"/><circle cx="350.00" cy="213.28" r="1.8" fill="#D6500A"/><circle cx="350.00" cy="214.96" r="1.8" fill="#D6500A"/><circle cx="350.00" cy="216.64" r="1.8" fill="#D6500A"/><circle cx="350.00" cy="218.32" r="1.8" fill="#D6500A"/><circle cx="350.00" cy="220.00" r="1.8" fill="#D6500A"/><circle cx="383.20" cy="220.20" r="1.8" fill="#D6500A"/><circle cx="243.00" cy="226.60" r="1.8" fill="#D6500A"/><circle cx="243.00" cy="230.40" r="1.8" fill="#D6500A"/><circle cx="350.20" cy="228.00" r="1.8" fill="#D6500A"/><circle cx="350.20" cy="229.60" r="1.8" fill="#D6500A"/><circle cx="350.20" cy="231.20" r="1.8" fill="#D6500A"/><circle cx="350.20" cy="232.80" r="1.8" fill="#D6500A"/><circle cx="350.20" cy="234.40" r="1.8" fill="#D6500A"/><circle cx="350.20" cy="236.00" r="1.8" fill="#D6500A"/><circle cx="207.10" cy="238.60" r="1.8" fill="#D6500A"/><circle cx="207.10" cy="240.10" r="1.8" fill="#D6500A"/><circle cx="207.10" cy="241.60" r="1.8" fill="#D6500A"/><circle cx="207.10" cy="243.10" r="1.8" fill="#D6500A"/><circle cx="207.10" cy="244.60" r="1.8" fill="#D6500A"/><circle cx="207.10" cy="246.10" r="1.8" fill="#D6500A"/><circle cx="207.10" cy="247.60" r="1.8" fill="#D6500A"/><circle cx="207.10" cy="249.10" r="1.8" fill="#D6500A"/><circle cx="207.10" cy="250.60" r="1.8" fill="#D6500A"/><circle cx="323.90" cy="238.60" r="1.8" fill="#D6500A"/><circle cx="323.90" cy="240.10" r="1.8" fill="#D6500A"/><circle cx="323.90" cy="241.60" r="1.8" fill="#D6500A"/><circle cx="323.90" cy="243.10" r="1.8" fill="#D6500A"/><circle cx="323.90" cy="244.60" r="1.8" fill="#D6500A"/><circle cx="323.90" cy="246.10" r="1.8" fill="#D6500A"/><circle cx="323.90" cy="247.60" r="1.8" fill="#D6500A"/><circle cx="323.90" cy="249.10" r="1.8" fill="#D6500A"/><circle cx="323.90" cy="250.60" r="1.8" fill="#D6500A"/><circle cx="347.10" cy="242.00" r="1.8" fill="#D6500A"/><circle cx="347.10" cy="243.75" r="1.8" fill="#D6500A"/><circle cx="347.10" cy="245.50" r="1.8" fill="#D6500A"/><circle cx="347.10" cy="247.25" r="1.8" fill="#D6500A"/><circle cx="347.10" cy="249.00" r="1.8" fill="#D6500A"/><circle cx="340.70" cy="252.60" r="1.8" fill="#D6500A"/><circle cx="340.70" cy="254.17" r="1.8" fill="#D6500A"/><circle cx="340.70" cy="255.74" r="1.8" fill="#D6500A"/><circle cx="340.70" cy="257.31" r="1.8" fill="#D6500A"/><circle cx="340.70" cy="258.89" r="1.8" fill="#D6500A"/><circle cx="340.70" cy="260.46" r="1.8" fill="#D6500A"/><circle cx="340.70" cy="262.03" r="1.8" fill="#D6500A"/><circle cx="340.70" cy="263.60" r="1.8" fill="#D6500A"/><circle cx="383.40" cy="252.60" r="1.8" fill="#D6500A"/><circle cx="383.40" cy="254.23" r="1.8" fill="#D6500A"/><circle cx="383.40" cy="255.86" r="1.8" fill="#D6500A"/><circle cx="383.40" cy="257.49" r="1.8" fill="#D6500A"/><circle cx="383.40" cy="259.11" r="1.8" fill="#D6500A"/><circle cx="383.40" cy="260.74" r="1.8" fill="#D6500A"/><circle cx="383.40" cy="262.37" r="1.8" fill="#D6500A"/><circle cx="383.40" cy="264.00" r="1.8" fill="#D6500A"/><circle cx="352.00" cy="272.10" r="1.8" fill="#D6500A"/><circle cx="352.00" cy="276.80" r="1.8" fill="#D6500A"/><circle cx="352.00" cy="282.30" r="1.8" fill="#D6500A"/><circle cx="313.10" cy="282.80" r="1.8" fill="#D6500A"/><circle cx="313.10" cy="288.40" r="1.8" fill="#D6500A"/><circle cx="373.60" cy="283.20" r="1.8" fill="#D6500A"/><circle cx="373.60" cy="284.76" r="1.8" fill="#D6500A"/><circle cx="373.60" cy="286.32" r="1.8" fill="#D6500A"/><circle cx="373.60" cy="287.88" r="1.8" fill="#D6500A"/><circle cx="373.60" cy="289.44" r="1.8" fill="#D6500A"/><circle cx="373.60" cy="291.00" r="1.8" fill="#D6500A"/><circle cx="394.40" cy="281.00" r="1.8" fill="#D6500A"/><circle cx="265.00" cy="294.20" r="1.8" fill="#D6500A"/><circle cx="265.00" cy="295.89" r="1.8" fill="#D6500A"/><circle cx="265.00" cy="297.57" r="1.8" fill="#D6500A"/><circle cx="265.00" cy="299.26" r="1.8" fill="#D6500A"/><circle cx="265.00" cy="300.94" r="1.8" fill="#D6500A"/><circle cx="265.00" cy="302.63" r="1.8" fill="#D6500A"/><circle cx="265.00" cy="304.31" r="1.8" fill="#D6500A"/><circle cx="265.00" cy="306.00" r="1.8" fill="#D6500A"/><circle cx="367.50" cy="305.10" r="1.8" fill="#D6500A"/><circle cx="372.50" cy="301.70" r="1.8" fill="#D6500A"/><circle cx="383.10" cy="294.40" r="1.8" fill="#D6500A"/><circle cx="383.10" cy="296.04" r="1.8" fill="#D6500A"/><circle cx="383.10" cy="297.69" r="1.8" fill="#D6500A"/><circle cx="383.10" cy="299.33" r="1.8" fill="#D6500A"/><circle cx="383.10" cy="300.97" r="1.8" fill="#D6500A"/><circle cx="383.10" cy="302.62" r="1.8" fill="#D6500A"/><circle cx="383.10" cy="304.26" r="1.8" fill="#D6500A"/><circle cx="383.10" cy="305.91" r="1.8" fill="#D6500A"/><circle cx="383.10" cy="307.55" r="1.8" fill="#D6500A"/><circle cx="383.10" cy="309.19" r="1.8" fill="#D6500A"/><circle cx="383.10" cy="310.84" r="1.8" fill="#D6500A"/><circle cx="383.10" cy="312.48" r="1.8" fill="#D6500A"/><circle cx="383.10" cy="314.12" r="1.8" fill="#D6500A"/><circle cx="383.10" cy="315.77" r="1.8" fill="#D6500A"/><circle cx="383.10" cy="317.41" r="1.8" fill="#D6500A"/><circle cx="383.10" cy="319.06" r="1.8" fill="#D6500A"/><circle cx="383.10" cy="320.70" r="1.8" fill="#D6500A"/><circle cx="385.70" cy="295.00" r="1.8" fill="#D6500A"/><circle cx="385.70" cy="299.80" r="1.8" fill="#D6500A"/><circle cx="385.70" cy="304.20" r="1.8" fill="#D6500A"/><circle cx="217.80" cy="318.60" r="1.8" fill="#D6500A"/><circle cx="239.30" cy="308.80" r="1.8" fill="#D6500A"/><circle cx="239.30" cy="310.30" r="1.8" fill="#D6500A"/><circle cx="239.30" cy="311.80" r="1.8" fill="#D6500A"/><circle cx="239.30" cy="313.30" r="1.8" fill="#D6500A"/><circle cx="239.30" cy="314.80" r="1.8" fill="#D6500A"/><circle cx="239.30" cy="316.30" r="1.8" fill="#D6500A"/><circle cx="239.30" cy="317.80" r="1.8" fill="#D6500A"/><circle cx="239.30" cy="319.30" r="1.8" fill="#D6500A"/><circle cx="239.30" cy="320.80" r="1.8" fill="#D6500A"/><circle cx="267.20" cy="309.10" r="1.8" fill="#D6500A"/><circle cx="267.20" cy="313.00" r="1.8" fill="#D6500A"/><circle cx="267.20" cy="317.40" r="1.8" fill="#D6500A"/><circle cx="283.30" cy="311.30" r="1.8" fill="#D6500A"/><circle cx="283.30" cy="317.70" r="1.8" fill="#D6500A"/><circle cx="330.30" cy="308.60" r="1.8" fill="#D6500A"/><circle cx="330.30" cy="310.12" r="1.8" fill="#D6500A"/><circle cx="330.30" cy="311.65" r="1.8" fill="#D6500A"/><circle cx="330.30" cy="313.18" r="1.8" fill="#D6500A"/><circle cx="330.30" cy="314.70" r="1.8" fill="#D6500A"/><circle cx="330.30" cy="316.23" r="1.8" fill="#D6500A"/><circle cx="330.30" cy="317.75" r="1.8" fill="#D6500A"/><circle cx="330.30" cy="319.28" r="1.8" fill="#D6500A"/><circle cx="330.30" cy="320.80" r="1.8" fill="#D6500A"/><circle cx="360.60" cy="308.20" r="1.8" fill="#D6500A"/><circle cx="360.60" cy="309.80" r="1.8" fill="#D6500A"/><circle cx="360.60" cy="311.40" r="1.8" fill="#D6500A"/><circle cx="360.60" cy="313.00" r="1.8" fill="#D6500A"/><circle cx="360.60" cy="314.60" r="1.8" fill="#D6500A"/><circle cx="360.60" cy="316.20" r="1.8" fill="#D6500A"/><circle cx="360.60" cy="317.80" r="1.8" fill="#D6500A"/><circle cx="360.60" cy="319.40" r="1.8" fill="#D6500A"/><circle cx="360.60" cy="321.00" r="1.8" fill="#D6500A"/><circle cx="371.40" cy="308.20" r="1.8" fill="#D6500A"/><circle cx="371.40" cy="309.80" r="1.8" fill="#D6500A"/><circle cx="371.40" cy="311.40" r="1.8" fill="#D6500A"/><circle cx="371.40" cy="313.00" r="1.8" fill="#D6500A"/><circle cx="371.40" cy="314.60" r="1.8" fill="#D6500A"/><circle cx="371.40" cy="316.20" r="1.8" fill="#D6500A"/><circle cx="371.40" cy="317.80" r="1.8" fill="#D6500A"/><circle cx="371.40" cy="319.40" r="1.8" fill="#D6500A"/><circle cx="371.40" cy="321.00" r="1.8" fill="#D6500A"/><circle cx="373.60" cy="308.20" r="1.8" fill="#D6500A"/><circle cx="373.60" cy="309.80" r="1.8" fill="#D6500A"/><circle cx="373.60" cy="311.40" r="1.8" fill="#D6500A"/><circle cx="373.60" cy="313.00" r="1.8" fill="#D6500A"/><circle cx="373.60" cy="314.60" r="1.8" fill="#D6500A"/><circle cx="373.60" cy="316.20" r="1.8" fill="#D6500A"/><circle cx="373.60" cy="317.80" r="1.8" fill="#D6500A"/><circle cx="373.60" cy="319.40" r="1.8" fill="#D6500A"/><circle cx="373.60" cy="321.00" r="1.8" fill="#D6500A"/><circle cx="385.50" cy="311.00" r="1.8" fill="#D6500A"/><circle cx="385.50" cy="316.50" r="1.8" fill="#D6500A"/><circle cx="393.60" cy="308.60" r="1.8" fill="#D6500A"/><circle cx="393.60" cy="310.30" r="1.8" fill="#D6500A"/><circle cx="393.60" cy="312.00" r="1.8" fill="#D6500A"/><circle cx="393.60" cy="313.70" r="1.8" fill="#D6500A"/><circle cx="393.60" cy="315.40" r="1.8" fill="#D6500A"/><circle cx="393.60" cy="317.10" r="1.8" fill="#D6500A"/><circle cx="393.60" cy="318.80" r="1.8" fill="#D6500A"/><circle cx="393.60" cy="320.50" r="1.8" fill="#D6500A"/><circle cx="397.20" cy="312.20" r="1.8" fill="#D6500A"/><circle cx="397.20" cy="316.00" r="1.8" fill="#D6500A"/><circle cx="409.60" cy="317.40" r="1.8" fill="#D6500A"/><circle cx="424.80" cy="309.50" r="1.8" fill="#D6500A"/><circle cx="424.80" cy="313.50" r="1.8" fill="#D6500A"/><circle cx="424.80" cy="319.00" r="1.8" fill="#D6500A"/><circle cx="440.50" cy="314.50" r="1.8" fill="#D6500A"/><circle cx="446.90" cy="309.40" r="1.8" fill="#D6500A"/><circle cx="446.90" cy="310.97" r="1.8" fill="#D6500A"/><circle cx="446.90" cy="312.54" r="1.8" fill="#D6500A"/><circle cx="446.90" cy="314.11" r="1.8" fill="#D6500A"/><circle cx="446.90" cy="315.69" r="1.8" fill="#D6500A"/><circle cx="446.90" cy="317.26" r="1.8" fill="#D6500A"/><circle cx="446.90" cy="318.83" r="1.8" fill="#D6500A"/><circle cx="446.90" cy="320.40" r="1.8" fill="#D6500A"/><circle cx="457.90" cy="308.60" r="1.8" fill="#D6500A"/><circle cx="457.90" cy="310.26" r="1.8" fill="#D6500A"/><circle cx="457.90" cy="311.91" r="1.8" fill="#D6500A"/><circle cx="457.90" cy="313.57" r="1.8" fill="#D6500A"/><circle cx="457.90" cy="315.23" r="1.8" fill="#D6500A"/><circle cx="457.90" cy="316.89" r="1.8" fill="#D6500A"/><circle cx="457.90" cy="318.54" r="1.8" fill="#D6500A"/><circle cx="457.90" cy="320.20" r="1.8" fill="#D6500A"/><circle cx="479.40" cy="308.00" r="1.8" fill="#D6500A"/><circle cx="479.40" cy="309.62" r="1.8" fill="#D6500A"/><circle cx="479.40" cy="311.25" r="1.8" fill="#D6500A"/><circle cx="479.40" cy="312.88" r="1.8" fill="#D6500A"/><circle cx="479.40" cy="314.50" r="1.8" fill="#D6500A"/><circle cx="479.40" cy="316.12" r="1.8" fill="#D6500A"/><circle cx="479.40" cy="317.75" r="1.8" fill="#D6500A"/><circle cx="479.40" cy="319.38" r="1.8" fill="#D6500A"/><circle cx="479.40" cy="321.00" r="1.8" fill="#D6500A"/><circle cx="285.70" cy="321.60" r="1.8" fill="#D6500A"/><circle cx="285.70" cy="323.15" r="1.8" fill="#D6500A"/><circle cx="285.70" cy="324.70" r="1.8" fill="#D6500A"/><circle cx="285.70" cy="326.25" r="1.8" fill="#D6500A"/><circle cx="285.70" cy="327.80" r="1.8" fill="#D6500A"/><circle cx="285.70" cy="329.35" r="1.8" fill="#D6500A"/><circle cx="285.70" cy="330.90" r="1.8" fill="#D6500A"/><circle cx="285.70" cy="332.45" r="1.8" fill="#D6500A"/><circle cx="285.70" cy="334.00" r="1.8" fill="#D6500A"/><circle cx="293.70" cy="322.60" r="1.8" fill="#D6500A"/><circle cx="293.70" cy="333.20" r="1.8" fill="#D6500A"/><circle cx="344.70" cy="323.50" r="1.8" fill="#D6500A"/><circle cx="344.70" cy="331.60" r="1.8" fill="#D6500A"/><circle cx="344.70" cy="334.60" r="1.8" fill="#D6500A"/><circle cx="363.70" cy="330.20" r="1.8" fill="#D6500A"/><circle cx="379.60" cy="323.60" r="1.8" fill="#D6500A"/><circle cx="379.60" cy="325.80" r="1.8" fill="#D6500A"/><circle cx="384.00" cy="330.80" r="1.8" fill="#D6500A"/><rect x="151.09" y="194.40" width="356.62" height="141.90" fill="none" stroke="#999" stroke-width="1.6"/><line x1="148.49" y1="202.75" x2="151.09" y2="202.75" stroke="#222" stroke-width="1.35"/><text x="146.19" y="205.70" text-anchor="end" font-family='"Liberation Sans", sans-serif' font-size="8.35" fill="#4D4D4D" stroke="#4D4D4D" stroke-width="0.15">Amorphous</text><line x1="148.49" y1="216.66" x2="151.09" y2="216.66" stroke="#222" stroke-width="1.35"/><text x="146.19" y="219.61" text-anchor="end" font-family='"Liberation Sans", sans-serif' font-size="8.35" fill="#4D4D4D" stroke="#4D4D4D" stroke-width="0.15">Amorphous, Aragonite</text><line x1="148.49" y1="230.57" x2="151.09" y2="230.57" stroke="#222" stroke-width="1.35"/><text x="146.19" y="233.52" text-anchor="end" font-family='"Liberation Sans", sans-serif' font-size="8.35" fill="#4D4D4D" stroke="#4D4D4D" stroke-width="0.15">Amorphous, Aragonite, Calcite</text><line x1="148.49" y1="244.48" x2="151.09" y2="244.48" stroke="#222" stroke-width="1.35"/><text x="146.19" y="247.43" text-anchor="end" font-family='"Liberation Sans", sans-serif' font-size="8.35" fill="#4D4D4D" stroke="#4D4D4D" stroke-width="0.15">High Mg Calcite, Amorphous</text><line x1="148.49" y1="258.39" x2="151.09" y2="258.39" stroke="#222" stroke-width="1.35"/><text x="146.19" y="261.34" text-anchor="end" font-family='"Liberation Sans", sans-serif' font-size="8.35" fill="#4D4D4D" stroke="#4D4D4D" stroke-width="0.15">High Mg Calcite</text><line x1="148.49" y1="272.31" x2="151.09" y2="272.31" stroke="#222" stroke-width="1.35"/><text x="146.19" y="275.26" text-anchor="end" font-family='"Liberation Sans", sans-serif' font-size="8.35" fill="#4D4D4D" stroke="#4D4D4D" stroke-width="0.15">Aragonite</text><line x1="148.49" y1="286.22" x2="151.09" y2="286.22" stroke="#222" stroke-width="1.35"/><text x="146.19" y="289.17" text-anchor="end" font-family='"Liberation Sans", sans-serif' font-size="8.35" fill="#4D4D4D" stroke="#4D4D4D" stroke-width="0.15">Calcite</text><line x1="148.49" y1="300.13" x2="151.09" y2="300.13" stroke="#222" stroke-width="1.35"/><text x="146.19" y="303.08" text-anchor="end" font-family='"Liberation Sans", sans-serif' font-size="8.35" fill="#4D4D4D" stroke="#4D4D4D" stroke-width="0.15">Non-CaCO<tspan font-size="5.8" dy="2.1">3</tspan><tspan dy="-2.1"> mineral</tspan></text><line x1="148.49" y1="314.04" x2="151.09" y2="314.04" stroke="#222" stroke-width="1.35"/><text x="146.19" y="316.99" text-anchor="end" font-family='"Liberation Sans", sans-serif' font-size="8.35" fill="#4D4D4D" stroke="#4D4D4D" stroke-width="0.15">No mineralization</text><line x1="148.49" y1="327.95" x2="151.09" y2="327.95" stroke="#222" stroke-width="1.35"/><text x="146.19" y="330.90" text-anchor="end" font-family='"Liberation Sans", sans-serif' font-size="8.35" fill="#4D4D4D" stroke="#4D4D4D" stroke-width="0.15">Vertebrate</text><line x1="167.30" y1="336.30" x2="167.30" y2="338.90" stroke="#222" stroke-width="1.35"/><text x="167.30" y="347.70" text-anchor="middle" font-family='"Liberation Sans", sans-serif' font-size="8.4" fill="#4D4D4D" stroke="#4D4D4D" stroke-width="0.15">-1.00</text><line x1="221.33" y1="336.30" x2="221.33" y2="338.90" stroke="#222" stroke-width="1.35"/><text x="221.33" y="347.70" text-anchor="middle" font-family='"Liberation Sans", sans-serif' font-size="8.4" fill="#4D4D4D" stroke="#4D4D4D" stroke-width="0.15">-0.75</text><line x1="275.37" y1="336.30" x2="275.37" y2="338.90" stroke="#222" stroke-width="1.35"/><text x="275.37" y="347.70" text-anchor="middle" font-family='"Liberation Sans", sans-serif' font-size="8.4" fill="#4D4D4D" stroke="#4D4D4D" stroke-width="0.15">-0.50</text><line x1="329.40" y1="336.30" x2="329.40" y2="338.90" stroke="#222" stroke-width="1.35"/><text x="329.40" y="347.70" text-anchor="middle" font-family='"Liberation Sans", sans-serif' font-size="8.4" fill="#4D4D4D" stroke="#4D4D4D" stroke-width="0.15">-0.25</text><line x1="383.43" y1="336.30" x2="383.43" y2="338.90" stroke="#222" stroke-width="1.35"/><text x="383.43" y="347.70" text-anchor="middle" font-family='"Liberation Sans", sans-serif' font-size="8.4" fill="#4D4D4D" stroke="#4D4D4D" stroke-width="0.15">0.00</text><line x1="437.47" y1="336.30" x2="437.47" y2="338.90" stroke="#222" stroke-width="1.35"/><text x="437.47" y="347.70" text-anchor="middle" font-family='"Liberation Sans", sans-serif' font-size="8.4" fill="#4D4D4D" stroke="#4D4D4D" stroke-width="0.15">0.25</text><line x1="491.50" y1="336.30" x2="491.50" y2="338.90" stroke="#222" stroke-width="1.35"/><text x="491.50" y="347.70" text-anchor="middle" font-family='"Liberation Sans", sans-serif' font-size="8.4" fill="#4D4D4D" stroke="#4D4D4D" stroke-width="0.15">0.50</text><text x="329.40" y="360.30" text-anchor="middle" font-family='"Liberation Sans", sans-serif' font-size="10.3" fill="#000" stroke="#000" stroke-width="0.15">Order-level survival scalar</text><text x="14.5" y="192.0" font-family='"Liberation Sans", sans-serif' font-size="13.2" fill="#000" stroke="#000" stroke-width="0.2">b)</text><line x1="165.20" y1="369.60" x2="165.20" y2="510.80" stroke="#EBEBEB" stroke-width="1.1"/><line x1="192.39" y1="369.60" x2="192.39" y2="510.80" stroke="#EBEBEB" stroke-width="0.55"/><line x1="219.58" y1="369.60" x2="219.58" y2="510.80" stroke="#EBEBEB" stroke-width="1.1"/><line x1="246.77" y1="369.60" x2="246.77" y2="510.80" stroke="#EBEBEB" stroke-width="0.55"/><line x1="273.97" y1="369.60" x2="273.97" y2="510.80" stroke="#EBEBEB" stroke-width="1.1"/><line x1="301.16" y1="369.60" x2="301.16" y2="510.80" stroke="#EBEBEB" stroke-width="0.55"/><line x1="328.35" y1="369.60" x2="328.35" y2="510.80" stroke="#EBEBEB" stroke-width="1.1"/><line x1="355.54" y1="369.60" x2="355.54" y2="510.80" stroke="#EBEBEB" stroke-width="0.55"/><line x1="382.73" y1="369.60" x2="382.73" y2="510.80" stroke="#EBEBEB" stroke-width="1.1"/><line x1="409.92" y1="369.60" x2="409.92" y2="510.80" stroke="#EBEBEB" stroke-width="0.55"/><line x1="437.12" y1="369.60" x2="437.12" y2="510.80" stroke="#EBEBEB" stroke-width="1.1"/><line x1="464.31" y1="369.60" x2="464.31" y2="510.80" stroke="#EBEBEB" stroke-width="0.55"/><line x1="491.50" y1="369.60" x2="491.50" y2="510.80" stroke="#EBEBEB" stroke-width="1.1"/><line x1="148.88" y1="377.91" x2="507.81" y2="377.91" stroke="#EBEBEB" stroke-width="1.1"/><line x1="148.88" y1="391.75" x2="507.81" y2="391.75" stroke="#EBEBEB" stroke-width="1.1"/><line x1="148.88" y1="405.59" x2="507.81" y2="405.59" stroke="#EBEBEB" stroke-width="1.1"/><line x1="148.88" y1="419.44" x2="507.81" y2="419.44" stroke="#EBEBEB" stroke-width="1.1"/><line x1="148.88" y1="433.28" x2="507.81" y2="433.28" stroke="#EBEBEB" stroke-width="1.1"/><line x1="148.88" y1="447.12" x2="507.81" y2="447.12" stroke="#EBEBEB" stroke-width="1.1"/><line x1="148.88" y1="460.96" x2="507.81" y2="460.96" stroke="#EBEBEB" stroke-width="1.1"/><line x1="148.88" y1="474.81" x2="507.81" y2="474.81" stroke="#EBEBEB" stroke-width="1.1"/><line x1="148.88" y1="488.65" x2="507.81" y2="488.65" stroke="#EBEBEB" stroke-width="1.1"/><line x1="148.88" y1="502.49" x2="507.81" y2="502.49" stroke="#EBEBEB" stroke-width="1.1"/><g stroke="#2a2a2a" stroke-width="1.35" fill="#fff"><line x1="317.30" y1="377.91" x2="317.30" y2="377.91"/><line x1="345.30" y1="377.91" x2="345.30" y2="377.91"/><rect x="317.30" y="372.71" width="28.00" height="10.38"/><line x1="331.50" y1="372.71" x2="331.50" y2="383.10" stroke="#1a1a1a" stroke-width="2.1"/></g><g stroke="#2a2a2a" stroke-width="1.35" fill="#fff"><line x1="210.60" y1="391.75" x2="210.60" y2="391.75"/><line x1="210.60" y1="391.75" x2="210.60" y2="391.75"/><rect x="210.60" y="386.56" width="0.00" height="10.38"/><line x1="210.60" y1="386.56" x2="210.60" y2="396.94" stroke="#1a1a1a" stroke-width="2.1"/></g><g stroke="#2a2a2a" stroke-width="1.35" fill="#fff"><line x1="210.60" y1="405.59" x2="210.60" y2="405.59"/><line x1="210.60" y1="405.59" x2="210.60" y2="405.59"/><rect x="210.60" y="400.40" width="0.00" height="10.38"/><line x1="210.60" y1="400.40" x2="210.60" y2="410.78" stroke="#1a1a1a" stroke-width="2.1"/></g><g stroke="#2a2a2a" stroke-width="1.35" fill="#fff"><line x1="288.80" y1="433.28" x2="288.80" y2="433.28"/><line x1="360.60" y1="433.28" x2="360.60" y2="433.28"/><rect x="288.80" y="428.09" width="71.80" height="10.38"/><line x1="360.60" y1="428.09" x2="360.60" y2="438.47" stroke="#1a1a1a" stroke-width="2.1"/></g><g stroke="#2a2a2a" stroke-width="1.35" fill="#fff"><line x1="353.30" y1="447.12" x2="353.30" y2="447.12"/><line x1="353.30" y1="447.12" x2="353.30" y2="447.12"/><rect x="353.30" y="441.93" width="0.00" height="10.38"/><line x1="353.30" y1="441.93" x2="353.30" y2="452.31" stroke="#1a1a1a" stroke-width="2.1"/></g><g stroke="#2a2a2a" stroke-width="1.35" fill="#fff"><line x1="378.70" y1="460.96" x2="381.20" y2="460.96"/><line x1="388.30" y1="460.96" x2="388.30" y2="460.96"/><rect x="381.20" y="455.77" width="7.10" height="10.38"/><line x1="388.30" y1="455.77" x2="388.30" y2="466.16" stroke="#1a1a1a" stroke-width="2.1"/></g><g stroke="#2a2a2a" stroke-width="1.35" fill="#fff"><line x1="279.30" y1="474.81" x2="279.30" y2="474.81"/><line x1="388.00" y1="474.81" x2="388.00" y2="474.81"/><rect x="279.30" y="469.62" width="108.70" height="10.38"/><line x1="388.00" y1="469.62" x2="388.00" y2="480.00" stroke="#1a1a1a" stroke-width="2.1"/></g><g stroke="#2a2a2a" stroke-width="1.35" fill="#fff"><line x1="288.50" y1="488.65" x2="299.20" y2="488.65"/><line x1="388.30" y1="488.65" x2="421.90" y2="488.65"/><rect x="299.20" y="483.46" width="89.10" height="10.38"/><line x1="388.30" y1="483.46" x2="388.30" y2="493.84" stroke="#1a1a1a" stroke-width="2.1"/></g><circle cx="256.60" cy="377.70" r="2.4" fill="#111"/><circle cx="210.60" cy="391.60" r="2.4" fill="#111"/><circle cx="310.50" cy="461.60" r="2.4" fill="#111"/><circle cx="316.20" cy="461.60" r="2.4" fill="#111"/><circle cx="279.30" cy="502.60" r="2.4" fill="#111"/><circle cx="256.60" cy="373.50" r="1.8" fill="#0D5FAD"/><circle cx="256.60" cy="379.70" r="1.8" fill="#0D5FAD"/><circle cx="256.60" cy="382.10" r="1.8" fill="#0D5FAD"/><circle cx="317.30" cy="376.80" r="1.8" fill="#0D5FAD"/><circle cx="317.30" cy="378.45" r="1.8" fill="#0D5FAD"/><circle cx="317.30" cy="380.10" r="1.8" fill="#0D5FAD"/><circle cx="317.30" cy="381.75" r="1.8" fill="#0D5FAD"/><circle cx="317.30" cy="383.40" r="1.8" fill="#0D5FAD"/><circle cx="345.30" cy="372.00" r="1.8" fill="#0D5FAD"/><circle cx="345.30" cy="373.66" r="1.8" fill="#0D5FAD"/><circle cx="345.30" cy="375.31" r="1.8" fill="#0D5FAD"/><circle cx="345.30" cy="376.97" r="1.8" fill="#0D5FAD"/><circle cx="345.30" cy="378.63" r="1.8" fill="#0D5FAD"/><circle cx="345.30" cy="380.29" r="1.8" fill="#0D5FAD"/><circle cx="345.30" cy="381.94" r="1.8" fill="#0D5FAD"/><circle cx="345.30" cy="383.60" r="1.8" fill="#0D5FAD"/><circle cx="165.20" cy="386.40" r="1.8" fill="#0D5FAD"/><circle cx="165.20" cy="387.94" r="1.8" fill="#0D5FAD"/><circle cx="165.20" cy="389.49" r="1.8" fill="#0D5FAD"/><circle cx="165.20" cy="391.03" r="1.8" fill="#0D5FAD"/><circle cx="165.20" cy="392.57" r="1.8" fill="#0D5FAD"/><circle cx="165.20" cy="394.11" r="1.8" fill="#0D5FAD"/><circle cx="165.20" cy="395.66" r="1.8" fill="#0D5FAD"/><circle cx="165.20" cy="397.20" r="1.8" fill="#0D5FAD"/><circle cx="210.60" cy="388.00" r="1.8" fill="#0D5FAD"/><circle cx="210.60" cy="389.53" r="1.8" fill="#0D5FAD"/><circle cx="210.60" cy="391.07" r="1.8" fill="#0D5FAD"/><circle cx="210.60" cy="392.60" r="1.8" fill="#0D5FAD"/><circle cx="210.60" cy="394.13" r="1.8" fill="#0D5FAD"/><circle cx="210.60" cy="395.67" r="1.8" fill="#0D5FAD"/><circle cx="210.60" cy="397.20" r="1.8" fill="#0D5FAD"/><circle cx="210.60" cy="403.50" r="1.8" fill="#0D5FAD"/><circle cx="210.60" cy="409.40" r="1.8" fill="#0D5FAD"/><circle cx="219.60" cy="413.40" r="1.8" fill="#0D5FAD"/><circle cx="219.60" cy="414.95" r="1.8" fill="#0D5FAD"/><circle cx="219.60" cy="416.50" r="1.8" fill="#0D5FAD"/><circle cx="219.60" cy="418.05" r="1.8" fill="#0D5FAD"/><circle cx="219.60" cy="419.60" r="1.8" fill="#0D5FAD"/><circle cx="219.60" cy="421.15" r="1.8" fill="#0D5FAD"/><circle cx="219.60" cy="422.70" r="1.8" fill="#0D5FAD"/><circle cx="219.60" cy="424.25" r="1.8" fill="#0D5FAD"/><circle cx="219.60" cy="425.80" r="1.8" fill="#0D5FAD"/><circle cx="288.80" cy="428.60" r="1.8" fill="#0D5FAD"/><circle cx="288.80" cy="430.33" r="1.8" fill="#0D5FAD"/><circle cx="288.80" cy="432.07" r="1.8" fill="#0D5FAD"/><circle cx="288.80" cy="433.80" r="1.8" fill="#0D5FAD"/><circle cx="288.80" cy="435.53" r="1.8" fill="#0D5FAD"/><circle cx="288.80" cy="437.27" r="1.8" fill="#0D5FAD"/><circle cx="288.80" cy="439.00" r="1.8" fill="#0D5FAD"/><circle cx="360.60" cy="428.60" r="1.8" fill="#0D5FAD"/><circle cx="360.60" cy="430.40" r="1.8" fill="#0D5FAD"/><circle cx="360.60" cy="432.20" r="1.8" fill="#0D5FAD"/><circle cx="360.60" cy="434.00" r="1.8" fill="#0D5FAD"/><circle cx="360.60" cy="435.80" r="1.8" fill="#0D5FAD"/><circle cx="353.30" cy="449.00" r="1.8" fill="#0D5FAD"/><circle cx="353.30" cy="451.20" r="1.8" fill="#0D5FAD"/><circle cx="310.50" cy="457.60" r="1.8" fill="#0D5FAD"/><circle cx="316.20" cy="455.90" r="1.8" fill="#0D5FAD"/><circle cx="316.20" cy="466.30" r="1.8" fill="#0D5FAD"/><circle cx="378.70" cy="461.40" r="1.8" fill="#0D5FAD"/><circle cx="388.50" cy="455.60" r="1.8" fill="#0D5FAD"/><circle cx="388.50" cy="459.30" r="1.8" fill="#0D5FAD"/><circle cx="388.50" cy="462.00" r="1.8" fill="#0D5FAD"/><circle cx="388.50" cy="464.80" r="1.8" fill="#0D5FAD"/><circle cx="387.70" cy="467.50" r="1.8" fill="#0D5FAD"/><circle cx="387.70" cy="469.19" r="1.8" fill="#0D5FAD"/><circle cx="387.70" cy="470.88" r="1.8" fill="#0D5FAD"/><circle cx="387.70" cy="472.56" r="1.8" fill="#0D5FAD"/><circle cx="387.70" cy="474.25" r="1.8" fill="#0D5FAD"/><circle cx="387.70" cy="475.94" r="1.8" fill="#0D5FAD"/><circle cx="387.70" cy="477.62" r="1.8" fill="#0D5FAD"/><circle cx="387.70" cy="479.31" r="1.8" fill="#0D5FAD"/><circle cx="387.70" cy="481.00" r="1.8" fill="#0D5FAD"/><circle cx="388.50" cy="483.00" r="1.8" fill="#0D5FAD"/><circle cx="388.50" cy="484.55" r="1.8" fill="#0D5FAD"/><circle cx="388.50" cy="486.10" r="1.8" fill="#0D5FAD"/><circle cx="388.50" cy="487.65" r="1.8" fill="#0D5FAD"/><circle cx="388.50" cy="489.20" r="1.8" fill="#0D5FAD"/><circle cx="388.50" cy="490.75" r="1.8" fill="#0D5FAD"/><circle cx="388.50" cy="492.30" r="1.8" fill="#0D5FAD"/><circle cx="388.50" cy="493.85" r="1.8" fill="#0D5FAD"/><circle cx="388.50" cy="495.40" r="1.8" fill="#0D5FAD"/><circle cx="279.30" cy="469.00" r="1.8" fill="#0D5FAD"/><circle cx="279.30" cy="470.50" r="1.8" fill="#0D5FAD"/><circle cx="279.30" cy="472.00" r="1.8" fill="#0D5FAD"/><circle cx="279.30" cy="473.50" r="1.8" fill="#0D5FAD"/><circle cx="279.30" cy="475.00" r="1.8" fill="#0D5FAD"/><circle cx="279.30" cy="476.50" r="1.8" fill="#0D5FAD"/><circle cx="279.30" cy="478.00" r="1.8" fill="#0D5FAD"/><circle cx="279.30" cy="479.50" r="1.8" fill="#0D5FAD"/><circle cx="279.30" cy="481.00" r="1.8" fill="#0D5FAD"/><circle cx="367.90" cy="472.30" r="1.8" fill="#0D5FAD"/><circle cx="288.50" cy="485.30" r="1.8" fill="#0D5FAD"/><circle cx="288.50" cy="487.60" r="1.8" fill="#0D5FAD"/><circle cx="288.50" cy="491.60" r="1.8" fill="#0D5FAD"/><circle cx="288.50" cy="493.80" r="1.8" fill="#0D5FAD"/><circle cx="299.20" cy="482.80" r="1.8" fill="#0D5FAD"/><circle cx="299.20" cy="484.49" r="1.8" fill="#0D5FAD"/><circle cx="299.20" cy="486.17" r="1.8" fill="#0D5FAD"/><circle cx="299.20" cy="487.86" r="1.8" fill="#0D5FAD"/><circle cx="299.20" cy="489.54" r="1.8" fill="#0D5FAD"/><circle cx="299.20" cy="491.23" r="1.8" fill="#0D5FAD"/><circle cx="299.20" cy="492.91" r="1.8" fill="#0D5FAD"/><circle cx="299.20" cy="494.60" r="1.8" fill="#0D5FAD"/><circle cx="328.00" cy="483.20" r="1.8" fill="#0D5FAD"/><circle cx="328.00" cy="484.86" r="1.8" fill="#0D5FAD"/><circle cx="328.00" cy="486.51" r="1.8" fill="#0D5FAD"/><circle cx="328.00" cy="488.17" r="1.8" fill="#0D5FAD"/><circle cx="328.00" cy="489.83" r="1.8" fill="#0D5FAD"/><circle cx="328.00" cy="491.49" r="1.8" fill="#0D5FAD"/><circle cx="328.00" cy="493.14" r="1.8" fill="#0D5FAD"/><circle cx="328.00" cy="494.80" r="1.8" fill="#0D5FAD"/><circle cx="332.50" cy="483.20" r="1.8" fill="#0D5FAD"/><circle cx="332.50" cy="484.86" r="1.8" fill="#0D5FAD"/><circle cx="332.50" cy="486.51" r="1.8" fill="#0D5FAD"/><circle cx="332.50" cy="488.17" r="1.8" fill="#0D5FAD"/><circle cx="332.50" cy="489.83" r="1.8" fill="#0D5FAD"/><circle cx="332.50" cy="491.49" r="1.8" fill="#0D5FAD"/><circle cx="332.50" cy="493.14" r="1.8" fill="#0D5FAD"/><circle cx="332.50" cy="494.80" r="1.8" fill="#0D5FAD"/><circle cx="378.70" cy="485.40" r="1.8" fill="#0D5FAD"/><circle cx="378.70" cy="488.30" r="1.8" fill="#0D5FAD"/><circle cx="378.70" cy="491.20" r="1.8" fill="#0D5FAD"/><circle cx="378.70" cy="494.40" r="1.8" fill="#0D5FAD"/><circle cx="382.80" cy="484.30" r="1.8" fill="#0D5FAD"/><circle cx="382.80" cy="487.00" r="1.8" fill="#0D5FAD"/><circle cx="382.80" cy="489.80" r="1.8" fill="#0D5FAD"/><circle cx="382.80" cy="492.60" r="1.8" fill="#0D5FAD"/><circle cx="382.80" cy="495.00" r="1.8" fill="#0D5FAD"/><circle cx="396.00" cy="483.90" r="1.8" fill="#0D5FAD"/><circle cx="396.00" cy="488.70" r="1.8" fill="#0D5FAD"/><circle cx="407.20" cy="483.20" r="1.8" fill="#0D5FAD"/><circle cx="407.20" cy="484.86" r="1.8" fill="#0D5FAD"/><circle cx="407.20" cy="486.51" r="1.8" fill="#0D5FAD"/><circle cx="407.20" cy="488.17" r="1.8" fill="#0D5FAD"/><circle cx="407.20" cy="489.83" r="1.8" fill="#0D5FAD"/><circle cx="407.20" cy="491.49" r="1.8" fill="#0D5FAD"/><circle cx="407.20" cy="493.14" r="1.8" fill="#0D5FAD"/><circle cx="407.20" cy="494.80" r="1.8" fill="#0D5FAD"/><circle cx="421.90" cy="491.40" r="1.8" fill="#0D5FAD"/><circle cx="421.90" cy="494.00" r="1.8" fill="#0D5FAD"/><circle cx="279.30" cy="507.00" r="1.8" fill="#0D5FAD"/><circle cx="315.00" cy="496.80" r="1.8" fill="#0D5FAD"/><circle cx="315.00" cy="498.38" r="1.8" fill="#0D5FAD"/><circle cx="315.00" cy="499.95" r="1.8" fill="#0D5FAD"/><circle cx="315.00" cy="501.52" r="1.8" fill="#0D5FAD"/><circle cx="315.00" cy="503.10" r="1.8" fill="#0D5FAD"/><circle cx="315.00" cy="504.68" r="1.8" fill="#0D5FAD"/><circle cx="315.00" cy="506.25" r="1.8" fill="#0D5FAD"/><circle cx="315.00" cy="507.82" r="1.8" fill="#0D5FAD"/><circle cx="315.00" cy="509.40" r="1.8" fill="#0D5FAD"/><rect x="148.88" y="369.60" width="358.93" height="141.20" fill="none" stroke="#999" stroke-width="1.6"/><line x1="146.28" y1="377.91" x2="148.88" y2="377.91" stroke="#222" stroke-width="1.35"/><text x="143.98" y="380.86" text-anchor="end" font-family='"Liberation Sans", sans-serif' font-size="8.35" fill="#4D4D4D" stroke="#4D4D4D" stroke-width="0.15">Amorphous</text><line x1="146.28" y1="391.75" x2="148.88" y2="391.75" stroke="#222" stroke-width="1.35"/><text x="143.98" y="394.70" text-anchor="end" font-family='"Liberation Sans", sans-serif' font-size="8.35" fill="#4D4D4D" stroke="#4D4D4D" stroke-width="0.15">Amorphous, Aragonite</text><line x1="146.28" y1="405.59" x2="148.88" y2="405.59" stroke="#222" stroke-width="1.35"/><text x="143.98" y="408.54" text-anchor="end" font-family='"Liberation Sans", sans-serif' font-size="8.35" fill="#4D4D4D" stroke="#4D4D4D" stroke-width="0.15">Amorphous, Aragonite, Calcite</text><line x1="146.28" y1="419.44" x2="148.88" y2="419.44" stroke="#222" stroke-width="1.35"/><text x="143.98" y="422.39" text-anchor="end" font-family='"Liberation Sans", sans-serif' font-size="8.35" fill="#4D4D4D" stroke="#4D4D4D" stroke-width="0.15">High Mg Calcite, Amorphous</text><line x1="146.28" y1="433.28" x2="148.88" y2="433.28" stroke="#222" stroke-width="1.35"/><text x="143.98" y="436.23" text-anchor="end" font-family='"Liberation Sans", sans-serif' font-size="8.35" fill="#4D4D4D" stroke="#4D4D4D" stroke-width="0.15">High Mg Calcite</text><line x1="146.28" y1="447.12" x2="148.88" y2="447.12" stroke="#222" stroke-width="1.35"/><text x="143.98" y="450.07" text-anchor="end" font-family='"Liberation Sans", sans-serif' font-size="8.35" fill="#4D4D4D" stroke="#4D4D4D" stroke-width="0.15">Aragonite</text><line x1="146.28" y1="460.96" x2="148.88" y2="460.96" stroke="#222" stroke-width="1.35"/><text x="143.98" y="463.91" text-anchor="end" font-family='"Liberation Sans", sans-serif' font-size="8.35" fill="#4D4D4D" stroke="#4D4D4D" stroke-width="0.15">Calcite</text><line x1="146.28" y1="474.81" x2="148.88" y2="474.81" stroke="#222" stroke-width="1.35"/><text x="143.98" y="477.76" text-anchor="end" font-family='"Liberation Sans", sans-serif' font-size="8.35" fill="#4D4D4D" stroke="#4D4D4D" stroke-width="0.15">Non-CaCO<tspan font-size="5.8" dy="2.1">3</tspan><tspan dy="-2.1"> mineral</tspan></text><line x1="146.28" y1="488.65" x2="148.88" y2="488.65" stroke="#222" stroke-width="1.35"/><text x="143.98" y="491.60" text-anchor="end" font-family='"Liberation Sans", sans-serif' font-size="8.35" fill="#4D4D4D" stroke="#4D4D4D" stroke-width="0.15">No mineralization</text><line x1="146.28" y1="502.49" x2="148.88" y2="502.49" stroke="#222" stroke-width="1.35"/><text x="143.98" y="505.44" text-anchor="end" font-family='"Liberation Sans", sans-serif' font-size="8.35" fill="#4D4D4D" stroke="#4D4D4D" stroke-width="0.15">Vertebrate</text><line x1="165.20" y1="510.80" x2="165.20" y2="513.40" stroke="#222" stroke-width="1.35"/><text x="165.20" y="522.20" text-anchor="middle" font-family='"Liberation Sans", sans-serif' font-size="8.4" fill="#4D4D4D" stroke="#4D4D4D" stroke-width="0.15">-1.00</text><line x1="219.58" y1="510.80" x2="219.58" y2="513.40" stroke="#222" stroke-width="1.35"/><text x="219.58" y="522.20" text-anchor="middle" font-family='"Liberation Sans", sans-serif' font-size="8.4" fill="#4D4D4D" stroke="#4D4D4D" stroke-width="0.15">-0.75</text><line x1="273.97" y1="510.80" x2="273.97" y2="513.40" stroke="#222" stroke-width="1.35"/><text x="273.97" y="522.20" text-anchor="middle" font-family='"Liberation Sans", sans-serif' font-size="8.4" fill="#4D4D4D" stroke="#4D4D4D" stroke-width="0.15">-0.50</text><line x1="328.35" y1="510.80" x2="328.35" y2="513.40" stroke="#222" stroke-width="1.35"/><text x="328.35" y="522.20" text-anchor="middle" font-family='"Liberation Sans", sans-serif' font-size="8.4" fill="#4D4D4D" stroke="#4D4D4D" stroke-width="0.15">-0.25</text><line x1="382.73" y1="510.80" x2="382.73" y2="513.40" stroke="#222" stroke-width="1.35"/><text x="382.73" y="522.20" text-anchor="middle" font-family='"Liberation Sans", sans-serif' font-size="8.4" fill="#4D4D4D" stroke="#4D4D4D" stroke-width="0.15">0.00</text><line x1="437.12" y1="510.80" x2="437.12" y2="513.40" stroke="#222" stroke-width="1.35"/><text x="437.12" y="522.20" text-anchor="middle" font-family='"Liberation Sans", sans-serif' font-size="8.4" fill="#4D4D4D" stroke="#4D4D4D" stroke-width="0.15">0.25</text><line x1="491.50" y1="510.80" x2="491.50" y2="513.40" stroke="#222" stroke-width="1.35"/><text x="491.50" y="522.20" text-anchor="middle" font-family='"Liberation Sans", sans-serif' font-size="8.4" fill="#4D4D4D" stroke="#4D4D4D" stroke-width="0.15">0.50</text><text x="328.35" y="534.80" text-anchor="middle" font-family='"Liberation Sans", sans-serif' font-size="10.3" fill="#000" stroke="#000" stroke-width="0.15">Class-level survival scalar</text><text x="14.4" y="366.3" font-family='"Liberation Sans", sans-serif' font-size="13.2" fill="#000" stroke="#000" stroke-width="0.2">c)</text><text transform="translate(26.8,266.0) rotate(-90)" text-anchor="middle" font-family='"Liberation Sans", sans-serif' font-size="10.3" fill="#000" stroke="#000" stroke-width="0.15">Early life stage mineralogy</text></svg></body></html>
